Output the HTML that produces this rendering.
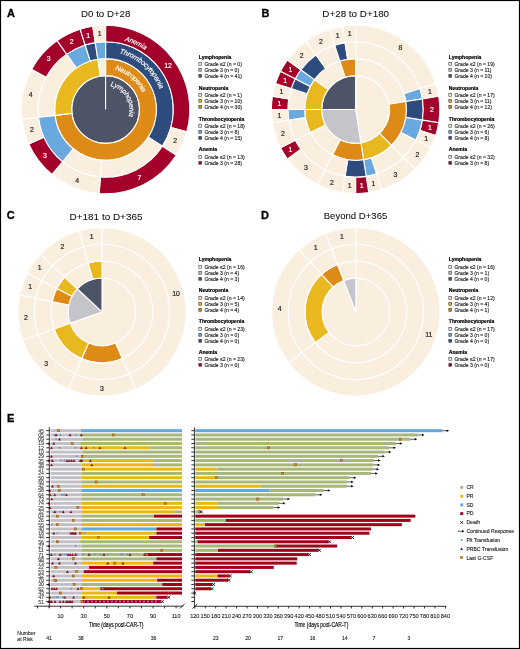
<!DOCTYPE html><html><head><meta charset="utf-8"><style>html,body{margin:0;padding:0;background:#fff}svg{display:block;will-change:transform}text{font-family:"Liberation Sans",sans-serif}</style></head><body>
<svg width="520" height="649" viewBox="0 0 520 649">
<rect x="0" y="0" width="520" height="649" fill="#fff"/>
<text x="7.0" y="16.5" font-size="11" font-weight="bold" fill="#000" stroke="#000" stroke-width="0.3">A</text>
<text x="261.4" y="16.5" font-size="11" font-weight="bold" fill="#000" stroke="#000" stroke-width="0.3">B</text>
<text x="6.7" y="219.3" font-size="11" font-weight="bold" fill="#000" stroke="#000" stroke-width="0.3">C</text>
<text x="261.0" y="219.2" font-size="11" font-weight="bold" fill="#000" stroke="#000" stroke-width="0.3">D</text>
<text x="7.0" y="421.8" font-size="11" font-weight="bold" fill="#000" stroke="#000" stroke-width="0.3">E</text>
<text x="81.1" y="17.2" font-size="9.3" fill="#111" stroke="#111" stroke-width="0.07" textLength="49.2" lengthAdjust="spacingAndGlyphs">D0 to D+28</text>
<text x="322.3" y="17.3" font-size="9.3" fill="#111" stroke="#111" stroke-width="0.07" textLength="66.8" lengthAdjust="spacingAndGlyphs">D+28 to D+180</text>
<text x="69.6" y="219.9" font-size="9.3" fill="#111" stroke="#111" stroke-width="0.07" textLength="72.9" lengthAdjust="spacingAndGlyphs">D+181 to D+365</text>
<text x="323.7" y="219.4" font-size="9.3" fill="#111" stroke="#111" stroke-width="0.07" textLength="63.6" lengthAdjust="spacingAndGlyphs">Beyond D+365</text>
<path d="M105.6,109.5L105.6,75.6A33.9,33.9 0 1 1 105.6,143.4A33.9,33.9 0 1 1 105.6,75.6Z" fill="#4D5466" stroke="#fff" stroke-width="1.1" fill-rule="evenodd"/>
<path d="M105.6,58.6A50.9,50.9 0 1 1 55.04,115.34L71.92,113.39A33.9,33.9 0 1 0 105.6,75.6Z" fill="#DE8A16" stroke="#fff" stroke-width="1.1"/>
<path d="M55.04,115.34A50.9,50.9 0 0 1 97.83,59.2L100.43,76A33.9,33.9 0 0 0 71.92,113.39Z" fill="#E8B81E" stroke="#fff" stroke-width="1.1"/>
<path d="M97.83,59.2A50.9,50.9 0 0 1 105.6,58.6L105.6,75.6A33.9,33.9 0 0 0 100.43,76Z" fill="#FAEEDF" stroke="#fff" stroke-width="1.1"/>
<path d="M105.6,41.8A67.7,67.7 0 0 1 162.43,146.3L148.32,137.17A50.9,50.9 0 0 0 105.6,58.6Z" fill="#2D4B7C" stroke="#fff" stroke-width="1.1"/>
<path d="M162.43,146.3A67.7,67.7 0 0 1 100.42,177L101.7,160.25A50.9,50.9 0 0 0 148.32,137.17Z" fill="#FAEEDF" stroke="#fff" stroke-width="1.1"/>
<path d="M100.42,177A67.7,67.7 0 0 1 62.53,161.73L73.22,148.77A50.9,50.9 0 0 0 101.7,160.25Z" fill="#FAEEDF" stroke="#fff" stroke-width="1.1"/>
<path d="M62.53,161.73A67.7,67.7 0 0 1 38.35,117.26L55.04,115.34A50.9,50.9 0 0 0 73.22,148.77Z" fill="#6AA9DF" stroke="#fff" stroke-width="1.1"/>
<path d="M38.35,117.26A67.7,67.7 0 0 1 66.65,54.13L76.32,67.87A50.9,50.9 0 0 0 55.04,115.34Z" fill="#FAEEDF" stroke="#fff" stroke-width="1.1"/>
<path d="M66.65,54.13A67.7,67.7 0 0 1 85.17,44.96L90.24,60.97A50.9,50.9 0 0 0 76.32,67.87Z" fill="#6AA9DF" stroke="#fff" stroke-width="1.1"/>
<path d="M85.17,44.96A67.7,67.7 0 0 1 95.27,42.59L97.83,59.2A50.9,50.9 0 0 0 90.24,60.97Z" fill="#2D4B7C" stroke="#fff" stroke-width="1.1"/>
<path d="M95.27,42.59A67.7,67.7 0 0 1 105.6,41.8L105.6,58.6A50.9,50.9 0 0 0 97.83,59.2Z" fill="#6AA9DF" stroke="#fff" stroke-width="1.1"/>
<path d="M105.6,25.3A84.2,84.2 0 0 1 186.79,131.81L170.88,127.44A67.7,67.7 0 0 0 105.6,41.8Z" fill="#A3002A" stroke="#fff" stroke-width="1.1"/>
<path d="M186.79,131.81A84.2,84.2 0 0 1 176.27,155.27L162.43,146.3A67.7,67.7 0 0 0 170.88,127.44Z" fill="#FAEEDF" stroke="#fff" stroke-width="1.1"/>
<path d="M176.27,155.27A84.2,84.2 0 0 1 99.15,193.45L100.42,177A67.7,67.7 0 0 0 162.43,146.3Z" fill="#A3002A" stroke="#fff" stroke-width="1.1"/>
<path d="M99.15,193.45A84.2,84.2 0 0 1 52.03,174.46L62.53,161.73A67.7,67.7 0 0 0 100.42,177Z" fill="#FAEEDF" stroke="#fff" stroke-width="1.1"/>
<path d="M52.03,174.46A84.2,84.2 0 0 1 28.77,143.94L43.82,137.19A67.7,67.7 0 0 0 62.53,161.73Z" fill="#A3002A" stroke="#fff" stroke-width="1.1"/>
<path d="M28.77,143.94A84.2,84.2 0 0 1 21.96,119.16L38.35,117.26A67.7,67.7 0 0 0 43.82,137.19Z" fill="#FAEEDF" stroke="#fff" stroke-width="1.1"/>
<path d="M21.96,119.16A84.2,84.2 0 0 1 31.63,69.28L46.12,77.16A67.7,67.7 0 0 0 38.35,117.26Z" fill="#FAEEDF" stroke="#fff" stroke-width="1.1"/>
<path d="M31.63,69.28A84.2,84.2 0 0 1 57.16,40.63L66.65,54.13A67.7,67.7 0 0 0 46.12,77.16Z" fill="#A3002A" stroke="#fff" stroke-width="1.1"/>
<path d="M57.16,40.63A84.2,84.2 0 0 1 80.2,29.22L85.17,44.96A67.7,67.7 0 0 0 66.65,54.13Z" fill="#A3002A" stroke="#fff" stroke-width="1.1"/>
<path d="M80.2,29.22A84.2,84.2 0 0 1 92.75,26.29L95.27,42.59A67.7,67.7 0 0 0 85.17,44.96Z" fill="#A3002A" stroke="#fff" stroke-width="1.1"/>
<path d="M92.75,26.29A84.2,84.2 0 0 1 105.6,25.3L105.6,41.8A67.7,67.7 0 0 0 95.27,42.59Z" fill="#FAEEDF" stroke="#fff" stroke-width="1.1"/>
<text x="167.99" y="67.94" font-size="6.9" fill="#fff" stroke="#fff" stroke-width="0.18" text-anchor="middle">12</text>
<text x="175.27" y="143.18" font-size="6.9" fill="#222" stroke="#222" stroke-width="0.18" text-anchor="middle">2</text>
<text x="139.48" y="180.37" font-size="6.9" fill="#fff" stroke="#fff" stroke-width="0.18" text-anchor="middle">7</text>
<text x="77.06" y="182.76" font-size="6.9" fill="#222" stroke="#222" stroke-width="0.18" text-anchor="middle">4</text>
<text x="44.88" y="158.24" font-size="6.9" fill="#fff" stroke="#fff" stroke-width="0.18" text-anchor="middle">3</text>
<text x="31.98" y="132.18" font-size="6.9" fill="#222" stroke="#222" stroke-width="0.18" text-anchor="middle">2</text>
<text x="30.65" y="97.41" font-size="6.9" fill="#222" stroke="#222" stroke-width="0.18" text-anchor="middle">4</text>
<text x="48.6" y="61.15" font-size="6.9" fill="#fff" stroke="#fff" stroke-width="0.18" text-anchor="middle">3</text>
<text x="71.72" y="43.53" font-size="6.9" fill="#fff" stroke="#fff" stroke-width="0.18" text-anchor="middle">2</text>
<text x="88.2" y="37.61" font-size="6.9" fill="#fff" stroke="#fff" stroke-width="0.18" text-anchor="middle">1</text>
<text x="99.76" y="35.82" font-size="6.9" fill="#222" stroke="#222" stroke-width="0.18" text-anchor="middle">1</text>
<path id="arcA0" d="M105.6,38.1A71.4,71.4 0 1 1 105.6,180.9A71.4,71.4 0 1 1 105.6,38.1" fill="none"/>
<text font-size="6.9" font-style="italic" fill="#fff" stroke="#fff" stroke-width="0.15" letter-spacing="-0.2"><textPath href="#arcA0" startOffset="19.44">Anemia</textPath></text>
<path id="arcA1" d="M105.6,51.7A57.8,57.8 0 1 1 105.6,167.3A57.8,57.8 0 1 1 105.6,51.7" fill="none"/>
<text font-size="7.1" font-style="italic" fill="#fff" stroke="#fff" stroke-width="0.15" letter-spacing="-0.2"><textPath href="#arcA1" startOffset="13.92">Thrombocytopenia</textPath></text>
<path id="arcA2" d="M105.6,69.1A40.4,40.4 0 1 1 105.6,149.9A40.4,40.4 0 1 1 105.6,69.1" fill="none"/>
<text font-size="7.1" font-style="italic" fill="#fff" stroke="#fff" stroke-width="0.15" letter-spacing="-0.22"><textPath href="#arcA2" startOffset="9.38">Neutropenia</textPath></text>
<path id="arcA3" d="M105.6,85.5A24.0,24.0 0 1 1 105.6,133.5A24.0,24.0 0 1 1 105.6,85.5" fill="none"/>
<text font-size="6.9" font-style="italic" fill="#fff" stroke="#fff" stroke-width="0.15" letter-spacing="-0.15"><textPath href="#arcA3" startOffset="4.82">Lymphopenia</textPath></text>
<path d="M355.6,109.5L355.6,75.6A33.9,33.9 0 0 1 360.9,142.98Z" fill="#FAEEDF" stroke="#fff" stroke-width="1.1"/>
<path d="M355.6,109.5L360.9,142.98A33.9,33.9 0 0 1 321.7,109.5Z" fill="#C5C4CA" stroke="#fff" stroke-width="1.1"/>
<path d="M355.6,109.5L321.7,109.5A33.9,33.9 0 0 1 355.6,75.6Z" fill="#4D5466" stroke="#fff" stroke-width="1.1"/>
<path d="M355.6,58.6A50.9,50.9 0 0 1 405.87,101.54L389.08,104.2A33.9,33.9 0 0 0 355.6,75.6Z" fill="#FAEEDF" stroke="#fff" stroke-width="1.1"/>
<path d="M405.87,101.54A50.9,50.9 0 0 1 391.59,145.49L379.57,133.47A33.9,33.9 0 0 0 389.08,104.2Z" fill="#DE8A16" stroke="#fff" stroke-width="1.1"/>
<path d="M391.59,145.49A50.9,50.9 0 0 1 363.56,159.77L360.9,142.98A33.9,33.9 0 0 0 379.57,133.47Z" fill="#E8B81E" stroke="#fff" stroke-width="1.1"/>
<path d="M363.56,159.77A50.9,50.9 0 0 1 332.49,154.85L340.21,139.71A33.9,33.9 0 0 0 360.9,142.98Z" fill="#DE8A16" stroke="#fff" stroke-width="1.1"/>
<path d="M332.49,154.85A50.9,50.9 0 0 1 310.25,132.61L325.39,124.89A33.9,33.9 0 0 0 340.21,139.71Z" fill="#FAEEDF" stroke="#fff" stroke-width="1.1"/>
<path d="M310.25,132.61A50.9,50.9 0 0 1 304.7,109.5L321.7,109.5A33.9,33.9 0 0 0 325.39,124.89Z" fill="#E8B81E" stroke="#fff" stroke-width="1.1"/>
<path d="M304.7,109.5A50.9,50.9 0 0 1 314.42,79.58L328.17,89.57A33.9,33.9 0 0 0 321.7,109.5Z" fill="#E8B81E" stroke="#fff" stroke-width="1.1"/>
<path d="M314.42,79.58A50.9,50.9 0 0 1 339.87,61.09L345.12,77.26A33.9,33.9 0 0 0 328.17,89.57Z" fill="#FAEEDF" stroke="#fff" stroke-width="1.1"/>
<path d="M339.87,61.09A50.9,50.9 0 0 1 355.6,58.6L355.6,75.6A33.9,33.9 0 0 0 345.12,77.26Z" fill="#DE8A16" stroke="#fff" stroke-width="1.1"/>
<path d="M355.6,41.8A67.7,67.7 0 0 1 419.99,88.58L404.01,93.77A50.9,50.9 0 0 0 355.6,58.6Z" fill="#FAEEDF" stroke="#fff" stroke-width="1.1"/>
<path d="M419.99,88.58A67.7,67.7 0 0 1 422.47,98.91L405.87,101.54A50.9,50.9 0 0 0 404.01,93.77Z" fill="#6AA9DF" stroke="#fff" stroke-width="1.1"/>
<path d="M422.47,98.91A67.7,67.7 0 0 1 422.47,120.09L405.87,117.46A50.9,50.9 0 0 0 405.87,101.54Z" fill="#2D4B7C" stroke="#fff" stroke-width="1.1"/>
<path d="M422.47,120.09A67.7,67.7 0 0 1 415.92,140.24L400.95,132.61A50.9,50.9 0 0 0 405.87,117.46Z" fill="#6AA9DF" stroke="#fff" stroke-width="1.1"/>
<path d="M415.92,140.24A67.7,67.7 0 0 1 403.47,157.37L391.59,145.49A50.9,50.9 0 0 0 400.95,132.61Z" fill="#FAEEDF" stroke="#fff" stroke-width="1.1"/>
<path d="M403.47,157.37A67.7,67.7 0 0 1 376.52,173.89L371.33,157.91A50.9,50.9 0 0 0 391.59,145.49Z" fill="#FAEEDF" stroke="#fff" stroke-width="1.1"/>
<path d="M376.52,173.89A67.7,67.7 0 0 1 366.19,176.37L363.56,159.77A50.9,50.9 0 0 0 371.33,157.91Z" fill="#6AA9DF" stroke="#fff" stroke-width="1.1"/>
<path d="M366.19,176.37A67.7,67.7 0 0 1 345.01,176.37L347.64,159.77A50.9,50.9 0 0 0 363.56,159.77Z" fill="#2D4B7C" stroke="#fff" stroke-width="1.1"/>
<path d="M345.01,176.37A67.7,67.7 0 0 1 324.86,169.82L332.49,154.85A50.9,50.9 0 0 0 347.64,159.77Z" fill="#FAEEDF" stroke="#fff" stroke-width="1.1"/>
<path d="M324.86,169.82A67.7,67.7 0 0 1 295.28,140.24L310.25,132.61A50.9,50.9 0 0 0 332.49,154.85Z" fill="#FAEEDF" stroke="#fff" stroke-width="1.1"/>
<path d="M295.28,140.24A67.7,67.7 0 0 1 288.73,120.09L305.33,117.46A50.9,50.9 0 0 0 310.25,132.61Z" fill="#FAEEDF" stroke="#fff" stroke-width="1.1"/>
<path d="M288.73,120.09A67.7,67.7 0 0 1 287.9,109.5L304.7,109.5A50.9,50.9 0 0 0 305.33,117.46Z" fill="#6AA9DF" stroke="#fff" stroke-width="1.1"/>
<path d="M287.9,109.5A67.7,67.7 0 0 1 291.21,88.58L307.19,93.77A50.9,50.9 0 0 0 304.7,109.5Z" fill="#FAEEDF" stroke="#fff" stroke-width="1.1"/>
<path d="M291.21,88.58A67.7,67.7 0 0 1 295.28,78.76L310.25,86.39A50.9,50.9 0 0 0 307.19,93.77Z" fill="#2D4B7C" stroke="#fff" stroke-width="1.1"/>
<path d="M295.28,78.76A67.7,67.7 0 0 1 300.83,69.71L314.42,79.58A50.9,50.9 0 0 0 310.25,86.39Z" fill="#6AA9DF" stroke="#fff" stroke-width="1.1"/>
<path d="M300.83,69.71A67.7,67.7 0 0 1 315.81,54.73L325.68,68.32A50.9,50.9 0 0 0 314.42,79.58Z" fill="#2D4B7C" stroke="#fff" stroke-width="1.1"/>
<path d="M315.81,54.73A67.7,67.7 0 0 1 334.68,45.11L339.87,61.09A50.9,50.9 0 0 0 325.68,68.32Z" fill="#FAEEDF" stroke="#fff" stroke-width="1.1"/>
<path d="M334.68,45.11A67.7,67.7 0 0 1 345.01,42.63L347.64,59.23A50.9,50.9 0 0 0 339.87,61.09Z" fill="#2D4B7C" stroke="#fff" stroke-width="1.1"/>
<path d="M345.01,42.63A67.7,67.7 0 0 1 355.6,41.8L355.6,58.6A50.9,50.9 0 0 0 347.64,59.23Z" fill="#FAEEDF" stroke="#fff" stroke-width="1.1"/>
<path d="M355.6,25.3A84.2,84.2 0 0 1 435.68,83.48L419.99,88.58A67.7,67.7 0 0 0 355.6,41.8Z" fill="#FAEEDF" stroke="#fff" stroke-width="1.1"/>
<path d="M435.68,83.48A84.2,84.2 0 0 1 438.76,96.33L422.47,98.91A67.7,67.7 0 0 0 419.99,88.58Z" fill="#FAEEDF" stroke="#fff" stroke-width="1.1"/>
<path d="M438.76,96.33A84.2,84.2 0 0 1 438.76,122.67L422.47,120.09A67.7,67.7 0 0 0 422.47,98.91Z" fill="#A3002A" stroke="#fff" stroke-width="1.1"/>
<path d="M438.76,122.67A84.2,84.2 0 0 1 435.68,135.52L419.99,130.42A67.7,67.7 0 0 0 422.47,120.09Z" fill="#A3002A" stroke="#fff" stroke-width="1.1"/>
<path d="M435.68,135.52A84.2,84.2 0 0 1 430.62,147.73L415.92,140.24A67.7,67.7 0 0 0 419.99,130.42Z" fill="#FAEEDF" stroke="#fff" stroke-width="1.1"/>
<path d="M430.62,147.73A84.2,84.2 0 0 1 415.14,169.04L403.47,157.37A67.7,67.7 0 0 0 415.92,140.24Z" fill="#FAEEDF" stroke="#fff" stroke-width="1.1"/>
<path d="M415.14,169.04A84.2,84.2 0 0 1 381.62,189.58L376.52,173.89A67.7,67.7 0 0 0 403.47,157.37Z" fill="#FAEEDF" stroke="#fff" stroke-width="1.1"/>
<path d="M381.62,189.58A84.2,84.2 0 0 1 368.77,192.66L366.19,176.37A67.7,67.7 0 0 0 376.52,173.89Z" fill="#FAEEDF" stroke="#fff" stroke-width="1.1"/>
<path d="M368.77,192.66A84.2,84.2 0 0 1 355.6,193.7L355.6,177.2A67.7,67.7 0 0 0 366.19,176.37Z" fill="#A3002A" stroke="#fff" stroke-width="1.1"/>
<path d="M355.6,193.7A84.2,84.2 0 0 1 342.43,192.66L345.01,176.37A67.7,67.7 0 0 0 355.6,177.2Z" fill="#FAEEDF" stroke="#fff" stroke-width="1.1"/>
<path d="M342.43,192.66A84.2,84.2 0 0 1 317.37,184.52L324.86,169.82A67.7,67.7 0 0 0 345.01,176.37Z" fill="#FAEEDF" stroke="#fff" stroke-width="1.1"/>
<path d="M317.37,184.52A84.2,84.2 0 0 1 287.48,158.99L300.83,149.29A67.7,67.7 0 0 0 324.86,169.82Z" fill="#FAEEDF" stroke="#fff" stroke-width="1.1"/>
<path d="M287.48,158.99A84.2,84.2 0 0 1 280.58,147.73L295.28,140.24A67.7,67.7 0 0 0 300.83,149.29Z" fill="#A3002A" stroke="#fff" stroke-width="1.1"/>
<path d="M280.58,147.73A84.2,84.2 0 0 1 272.44,122.67L288.73,120.09A67.7,67.7 0 0 0 295.28,140.24Z" fill="#FAEEDF" stroke="#fff" stroke-width="1.1"/>
<path d="M272.44,122.67A84.2,84.2 0 0 1 271.4,109.5L287.9,109.5A67.7,67.7 0 0 0 288.73,120.09Z" fill="#FAEEDF" stroke="#fff" stroke-width="1.1"/>
<path d="M271.4,109.5A84.2,84.2 0 0 1 272.44,96.33L288.73,98.91A67.7,67.7 0 0 0 287.9,109.5Z" fill="#A3002A" stroke="#fff" stroke-width="1.1"/>
<path d="M272.44,96.33A84.2,84.2 0 0 1 275.52,83.48L291.21,88.58A67.7,67.7 0 0 0 288.73,98.91Z" fill="#FAEEDF" stroke="#fff" stroke-width="1.1"/>
<path d="M275.52,83.48A84.2,84.2 0 0 1 280.58,71.27L295.28,78.76A67.7,67.7 0 0 0 291.21,88.58Z" fill="#A3002A" stroke="#fff" stroke-width="1.1"/>
<path d="M280.58,71.27A84.2,84.2 0 0 1 287.48,60.01L300.83,69.71A67.7,67.7 0 0 0 295.28,78.76Z" fill="#A3002A" stroke="#fff" stroke-width="1.1"/>
<path d="M287.48,60.01A84.2,84.2 0 0 1 306.11,41.38L315.81,54.73A67.7,67.7 0 0 0 300.83,69.71Z" fill="#FAEEDF" stroke="#fff" stroke-width="1.1"/>
<path d="M306.11,41.38A84.2,84.2 0 0 1 329.58,29.42L334.68,45.11A67.7,67.7 0 0 0 315.81,54.73Z" fill="#FAEEDF" stroke="#fff" stroke-width="1.1"/>
<path d="M329.58,29.42A84.2,84.2 0 0 1 342.43,26.34L345.01,42.63A67.7,67.7 0 0 0 334.68,45.11Z" fill="#FAEEDF" stroke="#fff" stroke-width="1.1"/>
<path d="M342.43,26.34A84.2,84.2 0 0 1 355.6,25.3L355.6,41.8A67.7,67.7 0 0 0 345.01,42.63Z" fill="#FAEEDF" stroke="#fff" stroke-width="1.1"/>
<text x="400.48" y="50.18" font-size="6.9" fill="#222" stroke="#222" stroke-width="0.18" text-anchor="middle">8</text>
<text x="429.84" y="94.13" font-size="6.9" fill="#222" stroke="#222" stroke-width="0.18" text-anchor="middle">1</text>
<text x="431.95" y="111.95" font-size="6.9" fill="#fff" stroke="#fff" stroke-width="0.18" text-anchor="middle">2</text>
<text x="429.84" y="129.77" font-size="6.9" fill="#fff" stroke="#fff" stroke-width="0.18" text-anchor="middle">1</text>
<text x="426.14" y="141.17" font-size="6.9" fill="#222" stroke="#222" stroke-width="0.18" text-anchor="middle">1</text>
<text x="417.37" y="156.83" font-size="6.9" fill="#222" stroke="#222" stroke-width="0.18" text-anchor="middle">2</text>
<text x="395.49" y="177.05" font-size="6.9" fill="#222" stroke="#222" stroke-width="0.18" text-anchor="middle">3</text>
<text x="373.42" y="186.19" font-size="6.9" fill="#222" stroke="#222" stroke-width="0.18" text-anchor="middle">1</text>
<text x="361.59" y="188.06" font-size="6.9" fill="#fff" stroke="#fff" stroke-width="0.18" text-anchor="middle">1</text>
<text x="349.61" y="188.06" font-size="6.9" fill="#222" stroke="#222" stroke-width="0.18" text-anchor="middle">1</text>
<text x="332.01" y="184.56" font-size="6.9" fill="#222" stroke="#222" stroke-width="0.18" text-anchor="middle">2</text>
<text x="306.01" y="170.01" font-size="6.9" fill="#222" stroke="#222" stroke-width="0.18" text-anchor="middle">3</text>
<text x="290.5" y="151.84" font-size="6.9" fill="#fff" stroke="#fff" stroke-width="0.18" text-anchor="middle">1</text>
<text x="282.99" y="135.54" font-size="6.9" fill="#222" stroke="#222" stroke-width="0.18" text-anchor="middle">2</text>
<text x="279.49" y="117.94" font-size="6.9" fill="#222" stroke="#222" stroke-width="0.18" text-anchor="middle">1</text>
<text x="279.49" y="105.96" font-size="6.9" fill="#fff" stroke="#fff" stroke-width="0.18" text-anchor="middle">1</text>
<text x="281.36" y="94.13" font-size="6.9" fill="#222" stroke="#222" stroke-width="0.18" text-anchor="middle">1</text>
<text x="285.06" y="82.73" font-size="6.9" fill="#fff" stroke="#fff" stroke-width="0.18" text-anchor="middle">1</text>
<text x="290.5" y="72.06" font-size="6.9" fill="#fff" stroke="#fff" stroke-width="0.18" text-anchor="middle">1</text>
<text x="301.61" y="57.96" font-size="6.9" fill="#222" stroke="#222" stroke-width="0.18" text-anchor="middle">2</text>
<text x="320.94" y="43.92" font-size="6.9" fill="#222" stroke="#222" stroke-width="0.18" text-anchor="middle">2</text>
<text x="337.78" y="37.71" font-size="6.9" fill="#222" stroke="#222" stroke-width="0.18" text-anchor="middle">1</text>
<text x="349.61" y="35.84" font-size="6.9" fill="#222" stroke="#222" stroke-width="0.18" text-anchor="middle">1</text>
<path d="M102,311.9L102,278A33.9,33.9 0 1 1 70.06,323.25Z" fill="#FAEEDF" stroke="#fff" stroke-width="1.1"/>
<path d="M102,311.9L70.06,323.25A33.9,33.9 0 0 1 77.22,288.76Z" fill="#C5C4CA" stroke="#fff" stroke-width="1.1"/>
<path d="M102,311.9L77.22,288.76A33.9,33.9 0 0 1 102,278Z" fill="#4D5466" stroke="#fff" stroke-width="1.1"/>
<path d="M102,261A50.9,50.9 0 0 1 122.28,358.59L115.51,342.99A33.9,33.9 0 0 0 102,278Z" fill="#FAEEDF" stroke="#fff" stroke-width="1.1"/>
<path d="M122.28,358.59A50.9,50.9 0 0 1 81.72,358.59L88.49,342.99A33.9,33.9 0 0 0 115.51,342.99Z" fill="#DE8A16" stroke="#fff" stroke-width="1.1"/>
<path d="M81.72,358.59A50.9,50.9 0 0 1 54.04,328.95L70.06,323.25A33.9,33.9 0 0 0 88.49,342.99Z" fill="#E8B81E" stroke="#fff" stroke-width="1.1"/>
<path d="M54.04,328.95A50.9,50.9 0 0 1 52.16,301.54L68.81,305A33.9,33.9 0 0 0 70.06,323.25Z" fill="#FAEEDF" stroke="#fff" stroke-width="1.1"/>
<path d="M52.16,301.54A50.9,50.9 0 0 1 56.81,288.48L71.9,296.3A33.9,33.9 0 0 0 68.81,305Z" fill="#DE8A16" stroke="#fff" stroke-width="1.1"/>
<path d="M56.81,288.48A50.9,50.9 0 0 1 64.8,277.16L77.22,288.76A33.9,33.9 0 0 0 71.9,296.3Z" fill="#E8B81E" stroke="#fff" stroke-width="1.1"/>
<path d="M64.8,277.16A50.9,50.9 0 0 1 88.27,262.89L92.85,279.26A33.9,33.9 0 0 0 77.22,288.76Z" fill="#FAEEDF" stroke="#fff" stroke-width="1.1"/>
<path d="M88.27,262.89A50.9,50.9 0 0 1 102,261L102,278A33.9,33.9 0 0 0 92.85,279.26Z" fill="#E8B81E" stroke="#fff" stroke-width="1.1"/>
<path d="M102,244.2A67.7,67.7 0 0 1 128.97,374L122.28,358.59A50.9,50.9 0 0 0 102,261Z" fill="#FAEEDF" stroke="#fff" stroke-width="1.1"/>
<path d="M128.97,374A67.7,67.7 0 0 1 75.03,374L81.72,358.59A50.9,50.9 0 0 0 122.28,358.59Z" fill="#FAEEDF" stroke="#fff" stroke-width="1.1"/>
<path d="M75.03,374A67.7,67.7 0 0 1 38.21,334.57L54.04,328.95A50.9,50.9 0 0 0 81.72,358.59Z" fill="#FAEEDF" stroke="#fff" stroke-width="1.1"/>
<path d="M38.21,334.57A67.7,67.7 0 0 1 35.72,298.13L52.16,301.54A50.9,50.9 0 0 0 54.04,328.95Z" fill="#FAEEDF" stroke="#fff" stroke-width="1.1"/>
<path d="M35.72,298.13A67.7,67.7 0 0 1 41.89,280.75L56.81,288.48A50.9,50.9 0 0 0 52.16,301.54Z" fill="#FAEEDF" stroke="#fff" stroke-width="1.1"/>
<path d="M41.89,280.75A67.7,67.7 0 0 1 52.52,265.69L64.8,277.16A50.9,50.9 0 0 0 56.81,288.48Z" fill="#FAEEDF" stroke="#fff" stroke-width="1.1"/>
<path d="M52.52,265.69A67.7,67.7 0 0 1 83.73,246.71L88.27,262.89A50.9,50.9 0 0 0 64.8,277.16Z" fill="#FAEEDF" stroke="#fff" stroke-width="1.1"/>
<path d="M83.73,246.71A67.7,67.7 0 0 1 102,244.2L102,261A50.9,50.9 0 0 0 88.27,262.89Z" fill="#FAEEDF" stroke="#fff" stroke-width="1.1"/>
<path d="M102,227.7A84.2,84.2 0 0 1 135.55,389.13L128.97,374A67.7,67.7 0 0 0 102,244.2Z" fill="#FAEEDF" stroke="#fff" stroke-width="1.1"/>
<path d="M135.55,389.13A84.2,84.2 0 0 1 68.45,389.13L75.03,374A67.7,67.7 0 0 0 128.97,374Z" fill="#FAEEDF" stroke="#fff" stroke-width="1.1"/>
<path d="M68.45,389.13A84.2,84.2 0 0 1 22.66,340.1L38.21,334.57A67.7,67.7 0 0 0 75.03,374Z" fill="#FAEEDF" stroke="#fff" stroke-width="1.1"/>
<path d="M22.66,340.1A84.2,84.2 0 0 1 19.56,294.77L35.72,298.13A67.7,67.7 0 0 0 38.21,334.57Z" fill="#FAEEDF" stroke="#fff" stroke-width="1.1"/>
<path d="M19.56,294.77A84.2,84.2 0 0 1 27.24,273.16L41.89,280.75A67.7,67.7 0 0 0 35.72,298.13Z" fill="#FAEEDF" stroke="#fff" stroke-width="1.1"/>
<path d="M27.24,273.16A84.2,84.2 0 0 1 40.46,254.43L52.52,265.69A67.7,67.7 0 0 0 41.89,280.75Z" fill="#FAEEDF" stroke="#fff" stroke-width="1.1"/>
<path d="M40.46,254.43A84.2,84.2 0 0 1 79.28,230.82L83.73,246.71A67.7,67.7 0 0 0 52.52,265.69Z" fill="#FAEEDF" stroke="#fff" stroke-width="1.1"/>
<path d="M79.28,230.82A84.2,84.2 0 0 1 102,227.7L102,244.2A67.7,67.7 0 0 0 83.73,246.71Z" fill="#FAEEDF" stroke="#fff" stroke-width="1.1"/>
<text x="176.05" y="295.75" font-size="6.9" fill="#222" stroke="#222" stroke-width="0.18" text-anchor="middle">10</text>
<text x="102" y="390.7" font-size="6.9" fill="#222" stroke="#222" stroke-width="0.18" text-anchor="middle">3</text>
<text x="46.2" y="366.46" font-size="6.9" fill="#222" stroke="#222" stroke-width="0.18" text-anchor="middle">3</text>
<text x="25.83" y="319.56" font-size="6.9" fill="#222" stroke="#222" stroke-width="0.18" text-anchor="middle">2</text>
<text x="30.06" y="288.78" font-size="6.9" fill="#222" stroke="#222" stroke-width="0.18" text-anchor="middle">1</text>
<text x="39.62" y="270.32" font-size="6.9" fill="#222" stroke="#222" stroke-width="0.18" text-anchor="middle">1</text>
<text x="62.33" y="249.12" font-size="6.9" fill="#222" stroke="#222" stroke-width="0.18" text-anchor="middle">2</text>
<text x="91.6" y="238.71" font-size="6.9" fill="#222" stroke="#222" stroke-width="0.18" text-anchor="middle">1</text>
<path d="M355.9,312L355.9,278.1A33.9,33.9 0 1 1 343.65,280.39Z" fill="#FAEEDF" stroke="#fff" stroke-width="1.1"/>
<path d="M355.9,312L343.65,280.39A33.9,33.9 0 0 1 355.9,278.1Z" fill="#C5C4CA" stroke="#fff" stroke-width="1.1"/>
<path d="M355.9,261.1A50.9,50.9 0 1 1 315.28,342.67L328.85,332.43A33.9,33.9 0 1 0 355.9,278.1Z" fill="#FAEEDF" stroke="#fff" stroke-width="1.1"/>
<path d="M315.28,342.67A50.9,50.9 0 0 1 321.61,274.38L333.06,286.95A33.9,33.9 0 0 0 328.85,332.43Z" fill="#E8B81E" stroke="#fff" stroke-width="1.1"/>
<path d="M321.61,274.38A50.9,50.9 0 0 1 337.51,264.54L343.65,280.39A33.9,33.9 0 0 0 333.06,286.95Z" fill="#DE8A16" stroke="#fff" stroke-width="1.1"/>
<path d="M337.51,264.54A50.9,50.9 0 0 1 355.9,261.1L355.9,278.1A33.9,33.9 0 0 0 343.65,280.39Z" fill="#FAEEDF" stroke="#fff" stroke-width="1.1"/>
<path d="M355.9,244.3A67.7,67.7 0 1 1 301.87,352.8L315.28,342.67A50.9,50.9 0 1 0 355.9,261.1Z" fill="#FAEEDF" stroke="#fff" stroke-width="1.1"/>
<path d="M301.87,352.8A67.7,67.7 0 0 1 310.29,261.97L321.61,274.38A50.9,50.9 0 0 0 315.28,342.67Z" fill="#FAEEDF" stroke="#fff" stroke-width="1.1"/>
<path d="M310.29,261.97A67.7,67.7 0 0 1 331.44,248.87L337.51,264.54A50.9,50.9 0 0 0 321.61,274.38Z" fill="#FAEEDF" stroke="#fff" stroke-width="1.1"/>
<path d="M331.44,248.87A67.7,67.7 0 0 1 355.9,244.3L355.9,261.1A50.9,50.9 0 0 0 337.51,264.54Z" fill="#FAEEDF" stroke="#fff" stroke-width="1.1"/>
<path d="M355.9,227.8A84.2,84.2 0 1 1 288.71,362.74L301.87,352.8A67.7,67.7 0 1 0 355.9,244.3Z" fill="#FAEEDF" stroke="#fff" stroke-width="1.1"/>
<path d="M288.71,362.74A84.2,84.2 0 0 1 299.17,249.78L310.29,261.97A67.7,67.7 0 0 0 301.87,352.8Z" fill="#FAEEDF" stroke="#fff" stroke-width="1.1"/>
<path d="M299.17,249.78A84.2,84.2 0 0 1 325.48,233.49L331.44,248.87A67.7,67.7 0 0 0 310.29,261.97Z" fill="#FAEEDF" stroke="#fff" stroke-width="1.1"/>
<path d="M325.48,233.49A84.2,84.2 0 0 1 355.9,227.8L355.9,244.3A67.7,67.7 0 0 0 331.44,248.87Z" fill="#FAEEDF" stroke="#fff" stroke-width="1.1"/>
<text x="428.84" y="337.03" font-size="6.9" fill="#222" stroke="#222" stroke-width="0.18" text-anchor="middle">11</text>
<text x="279.63" y="310.99" font-size="6.9" fill="#222" stroke="#222" stroke-width="0.18" text-anchor="middle">4</text>
<text x="315.71" y="249.54" font-size="6.9" fill="#222" stroke="#222" stroke-width="0.18" text-anchor="middle">1</text>
<text x="341.87" y="239.4" font-size="6.9" fill="#222" stroke="#222" stroke-width="0.18" text-anchor="middle">1</text>
<text x="198.8" y="59" font-size="5.05" font-weight="bold" fill="#000" stroke="#000" stroke-width="0.2">Lymphopenia</text>
<rect x="198.85" y="62.45" width="2.8" height="2.8" fill="#FAEEDF" stroke="#3a3a3a" stroke-width="0.6"/>
<text x="204.4" y="66" font-size="5.1" fill="#222" stroke="#222" stroke-width="0.14">Grade ≤2 (n = 0)</text>
<rect x="198.85" y="68.45" width="2.8" height="2.8" fill="#C5C4CA" stroke="#3a3a3a" stroke-width="0.6"/>
<text x="204.4" y="72" font-size="5.1" fill="#222" stroke="#222" stroke-width="0.14">Grade 3 (n = 0)</text>
<rect x="198.85" y="74.45" width="2.8" height="2.8" fill="#4D5466" stroke="#3a3a3a" stroke-width="0.6"/>
<text x="204.4" y="78" font-size="5.1" fill="#222" stroke="#222" stroke-width="0.14">Grade 4 (n = 41)</text>
<text x="198.8" y="90" font-size="5.05" font-weight="bold" fill="#000" stroke="#000" stroke-width="0.2">Neutropenia</text>
<rect x="198.85" y="93.45" width="2.8" height="2.8" fill="#FAEEDF" stroke="#3a3a3a" stroke-width="0.6"/>
<text x="204.4" y="97" font-size="5.1" fill="#222" stroke="#222" stroke-width="0.14">Grade ≤2 (n = 1)</text>
<rect x="198.85" y="99.45" width="2.8" height="2.8" fill="#E8B81E" stroke="#3a3a3a" stroke-width="0.6"/>
<text x="204.4" y="103" font-size="5.1" fill="#222" stroke="#222" stroke-width="0.14">Grade 3 (n = 10)</text>
<rect x="198.85" y="105.45" width="2.8" height="2.8" fill="#DE8A16" stroke="#3a3a3a" stroke-width="0.6"/>
<text x="204.4" y="109" font-size="5.1" fill="#222" stroke="#222" stroke-width="0.14">Grade 4 (n = 30)</text>
<text x="198.8" y="121" font-size="5.05" font-weight="bold" fill="#000" stroke="#000" stroke-width="0.2">Thrombocytopenia</text>
<rect x="198.85" y="124.45" width="2.8" height="2.8" fill="#FAEEDF" stroke="#3a3a3a" stroke-width="0.6"/>
<text x="204.4" y="128" font-size="5.1" fill="#222" stroke="#222" stroke-width="0.14">Grade ≤2 (n = 18)</text>
<rect x="198.85" y="130.45" width="2.8" height="2.8" fill="#6AA9DF" stroke="#3a3a3a" stroke-width="0.6"/>
<text x="204.4" y="134" font-size="5.1" fill="#222" stroke="#222" stroke-width="0.14">Grade 3 (n = 8)</text>
<rect x="198.85" y="136.45" width="2.8" height="2.8" fill="#2D4B7C" stroke="#3a3a3a" stroke-width="0.6"/>
<text x="204.4" y="140" font-size="5.1" fill="#222" stroke="#222" stroke-width="0.14">Grade 4 (n = 15)</text>
<text x="198.8" y="151" font-size="5.05" font-weight="bold" fill="#000" stroke="#000" stroke-width="0.2">Anemia</text>
<rect x="198.85" y="155.45" width="2.8" height="2.8" fill="#FAEEDF" stroke="#3a3a3a" stroke-width="0.6"/>
<text x="204.4" y="159" font-size="5.1" fill="#222" stroke="#222" stroke-width="0.14">Grade ≤2 (n = 13)</text>
<rect x="198.85" y="161.45" width="2.8" height="2.8" fill="#A3002A" stroke="#3a3a3a" stroke-width="0.6"/>
<text x="204.4" y="165" font-size="5.1" fill="#222" stroke="#222" stroke-width="0.14">Grade 3 (n = 28)</text>
<text x="448.8" y="59" font-size="5.05" font-weight="bold" fill="#000" stroke="#000" stroke-width="0.2">Lymphopenia</text>
<rect x="448.85" y="62.45" width="2.8" height="2.8" fill="#FAEEDF" stroke="#3a3a3a" stroke-width="0.6"/>
<text x="454.4" y="66" font-size="5.1" fill="#222" stroke="#222" stroke-width="0.14">Grade ≤2 (n = 19)</text>
<rect x="448.85" y="68.45" width="2.8" height="2.8" fill="#C5C4CA" stroke="#3a3a3a" stroke-width="0.6"/>
<text x="454.4" y="72" font-size="5.1" fill="#222" stroke="#222" stroke-width="0.14">Grade 3 (n = 11)</text>
<rect x="448.85" y="74.45" width="2.8" height="2.8" fill="#4D5466" stroke="#3a3a3a" stroke-width="0.6"/>
<text x="454.4" y="78" font-size="5.1" fill="#222" stroke="#222" stroke-width="0.14">Grade 4 (n = 10)</text>
<text x="448.8" y="90" font-size="5.05" font-weight="bold" fill="#000" stroke="#000" stroke-width="0.2">Neutropenia</text>
<rect x="448.85" y="93.45" width="2.8" height="2.8" fill="#FAEEDF" stroke="#3a3a3a" stroke-width="0.6"/>
<text x="454.4" y="97" font-size="5.1" fill="#222" stroke="#222" stroke-width="0.14">Grade ≤2 (n = 17)</text>
<rect x="448.85" y="99.45" width="2.8" height="2.8" fill="#E8B81E" stroke="#3a3a3a" stroke-width="0.6"/>
<text x="454.4" y="103" font-size="5.1" fill="#222" stroke="#222" stroke-width="0.14">Grade 3 (n = 11)</text>
<rect x="448.85" y="105.45" width="2.8" height="2.8" fill="#DE8A16" stroke="#3a3a3a" stroke-width="0.6"/>
<text x="454.4" y="109" font-size="5.1" fill="#222" stroke="#222" stroke-width="0.14">Grade 4 (n = 12)</text>
<text x="448.8" y="121" font-size="5.05" font-weight="bold" fill="#000" stroke="#000" stroke-width="0.2">Thrombocytopenia</text>
<rect x="448.85" y="124.45" width="2.8" height="2.8" fill="#FAEEDF" stroke="#3a3a3a" stroke-width="0.6"/>
<text x="454.4" y="128" font-size="5.1" fill="#222" stroke="#222" stroke-width="0.14">Grade ≤2 (n = 26)</text>
<rect x="448.85" y="130.45" width="2.8" height="2.8" fill="#6AA9DF" stroke="#3a3a3a" stroke-width="0.6"/>
<text x="454.4" y="134" font-size="5.1" fill="#222" stroke="#222" stroke-width="0.14">Grade 3 (n = 6)</text>
<rect x="448.85" y="136.45" width="2.8" height="2.8" fill="#2D4B7C" stroke="#3a3a3a" stroke-width="0.6"/>
<text x="454.4" y="140" font-size="5.1" fill="#222" stroke="#222" stroke-width="0.14">Grade 4 (n = 8)</text>
<text x="448.8" y="151" font-size="5.05" font-weight="bold" fill="#000" stroke="#000" stroke-width="0.2">Anemia</text>
<rect x="448.85" y="155.45" width="2.8" height="2.8" fill="#FAEEDF" stroke="#3a3a3a" stroke-width="0.6"/>
<text x="454.4" y="159" font-size="5.1" fill="#222" stroke="#222" stroke-width="0.14">Grade ≤2 (n = 32)</text>
<rect x="448.85" y="161.45" width="2.8" height="2.8" fill="#A3002A" stroke="#3a3a3a" stroke-width="0.6"/>
<text x="454.4" y="165" font-size="5.1" fill="#222" stroke="#222" stroke-width="0.14">Grade 3 (n = 8)</text>
<text x="198.8" y="261" font-size="5.05" font-weight="bold" fill="#000" stroke="#000" stroke-width="0.2">Lymphopenia</text>
<rect x="198.85" y="265.45" width="2.8" height="2.8" fill="#FAEEDF" stroke="#3a3a3a" stroke-width="0.6"/>
<text x="204.4" y="269" font-size="5.1" fill="#222" stroke="#222" stroke-width="0.14">Grade ≤2 (n = 16)</text>
<rect x="198.85" y="271.45" width="2.8" height="2.8" fill="#C5C4CA" stroke="#3a3a3a" stroke-width="0.6"/>
<text x="204.4" y="275" font-size="5.1" fill="#222" stroke="#222" stroke-width="0.14">Grade 3 (n = 4)</text>
<rect x="198.85" y="277.45" width="2.8" height="2.8" fill="#4D5466" stroke="#3a3a3a" stroke-width="0.6"/>
<text x="204.4" y="281" font-size="5.1" fill="#222" stroke="#222" stroke-width="0.14">Grade 4 (n = 3)</text>
<text x="198.8" y="292" font-size="5.05" font-weight="bold" fill="#000" stroke="#000" stroke-width="0.2">Neutropenia</text>
<rect x="198.85" y="296.45" width="2.8" height="2.8" fill="#FAEEDF" stroke="#3a3a3a" stroke-width="0.6"/>
<text x="204.4" y="300" font-size="5.1" fill="#222" stroke="#222" stroke-width="0.14">Grade ≤2 (n = 14)</text>
<rect x="198.85" y="302.45" width="2.8" height="2.8" fill="#E8B81E" stroke="#3a3a3a" stroke-width="0.6"/>
<text x="204.4" y="306" font-size="5.1" fill="#222" stroke="#222" stroke-width="0.14">Grade 3 (n = 5)</text>
<rect x="198.85" y="308.45" width="2.8" height="2.8" fill="#DE8A16" stroke="#3a3a3a" stroke-width="0.6"/>
<text x="204.4" y="312" font-size="5.1" fill="#222" stroke="#222" stroke-width="0.14">Grade 4 (n = 4)</text>
<text x="198.8" y="323" font-size="5.05" font-weight="bold" fill="#000" stroke="#000" stroke-width="0.2">Thrombocytopenia</text>
<rect x="198.85" y="327.45" width="2.8" height="2.8" fill="#FAEEDF" stroke="#3a3a3a" stroke-width="0.6"/>
<text x="204.4" y="331" font-size="5.1" fill="#222" stroke="#222" stroke-width="0.14">Grade ≤2 (n = 23)</text>
<rect x="198.85" y="333.45" width="2.8" height="2.8" fill="#6AA9DF" stroke="#3a3a3a" stroke-width="0.6"/>
<text x="204.4" y="337" font-size="5.1" fill="#222" stroke="#222" stroke-width="0.14">Grade 3 (n = 0)</text>
<rect x="198.85" y="339.45" width="2.8" height="2.8" fill="#2D4B7C" stroke="#3a3a3a" stroke-width="0.6"/>
<text x="204.4" y="343" font-size="5.1" fill="#222" stroke="#222" stroke-width="0.14">Grade 4 (n = 0)</text>
<text x="198.8" y="354" font-size="5.05" font-weight="bold" fill="#000" stroke="#000" stroke-width="0.2">Anemia</text>
<rect x="198.85" y="357.45" width="2.8" height="2.8" fill="#FAEEDF" stroke="#3a3a3a" stroke-width="0.6"/>
<text x="204.4" y="361" font-size="5.1" fill="#222" stroke="#222" stroke-width="0.14">Grade ≤2 (n = 23)</text>
<rect x="198.85" y="363.45" width="2.8" height="2.8" fill="#A3002A" stroke="#3a3a3a" stroke-width="0.6"/>
<text x="204.4" y="367" font-size="5.1" fill="#222" stroke="#222" stroke-width="0.14">Grade 3 (n = 0)</text>
<text x="448.8" y="261" font-size="5.05" font-weight="bold" fill="#000" stroke="#000" stroke-width="0.2">Lymphopenia</text>
<rect x="448.85" y="265.45" width="2.8" height="2.8" fill="#FAEEDF" stroke="#3a3a3a" stroke-width="0.6"/>
<text x="454.4" y="269" font-size="5.1" fill="#222" stroke="#222" stroke-width="0.14">Grade ≤2 (n = 16)</text>
<rect x="448.85" y="271.45" width="2.8" height="2.8" fill="#C5C4CA" stroke="#3a3a3a" stroke-width="0.6"/>
<text x="454.4" y="275" font-size="5.1" fill="#222" stroke="#222" stroke-width="0.14">Grade 3 (n = 1)</text>
<rect x="448.85" y="277.45" width="2.8" height="2.8" fill="#4D5466" stroke="#3a3a3a" stroke-width="0.6"/>
<text x="454.4" y="281" font-size="5.1" fill="#222" stroke="#222" stroke-width="0.14">Grade 4 (n = 0)</text>
<text x="448.8" y="292" font-size="5.05" font-weight="bold" fill="#000" stroke="#000" stroke-width="0.2">Neutropenia</text>
<rect x="448.85" y="296.45" width="2.8" height="2.8" fill="#FAEEDF" stroke="#3a3a3a" stroke-width="0.6"/>
<text x="454.4" y="300" font-size="5.1" fill="#222" stroke="#222" stroke-width="0.14">Grade ≤2 (n = 12)</text>
<rect x="448.85" y="302.45" width="2.8" height="2.8" fill="#E8B81E" stroke="#3a3a3a" stroke-width="0.6"/>
<text x="454.4" y="306" font-size="5.1" fill="#222" stroke="#222" stroke-width="0.14">Grade 3 (n = 4)</text>
<rect x="448.85" y="308.45" width="2.8" height="2.8" fill="#DE8A16" stroke="#3a3a3a" stroke-width="0.6"/>
<text x="454.4" y="312" font-size="5.1" fill="#222" stroke="#222" stroke-width="0.14">Grade 4 (n = 1)</text>
<text x="448.8" y="323" font-size="5.05" font-weight="bold" fill="#000" stroke="#000" stroke-width="0.2">Thrombocytopenia</text>
<rect x="448.85" y="327.45" width="2.8" height="2.8" fill="#FAEEDF" stroke="#3a3a3a" stroke-width="0.6"/>
<text x="454.4" y="331" font-size="5.1" fill="#222" stroke="#222" stroke-width="0.14">Grade ≤2 (n = 17)</text>
<rect x="448.85" y="333.45" width="2.8" height="2.8" fill="#6AA9DF" stroke="#3a3a3a" stroke-width="0.6"/>
<text x="454.4" y="337" font-size="5.1" fill="#222" stroke="#222" stroke-width="0.14">Grade 3 (n = 0)</text>
<rect x="448.85" y="339.45" width="2.8" height="2.8" fill="#2D4B7C" stroke="#3a3a3a" stroke-width="0.6"/>
<text x="454.4" y="343" font-size="5.1" fill="#222" stroke="#222" stroke-width="0.14">Grade 4 (n = 0)</text>
<text x="448.8" y="354" font-size="5.05" font-weight="bold" fill="#000" stroke="#000" stroke-width="0.2">Anemia</text>
<rect x="448.85" y="357.45" width="2.8" height="2.8" fill="#FAEEDF" stroke="#3a3a3a" stroke-width="0.6"/>
<text x="454.4" y="361" font-size="5.1" fill="#222" stroke="#222" stroke-width="0.14">Grade ≤2 (n = 17)</text>
<rect x="448.85" y="363.45" width="2.8" height="2.8" fill="#A3002A" stroke="#3a3a3a" stroke-width="0.6"/>
<text x="454.4" y="367" font-size="5.1" fill="#222" stroke="#222" stroke-width="0.14">Grade 3 (n = 0)</text>
<rect x="50.5" y="429.2" width="30.5" height="3.0" fill="#C2C0C6"/>
<rect x="81" y="429.2" width="101" height="3.0" fill="#5FA8E0"/>
<rect x="195.3" y="429.2" width="247" height="3.0" fill="#5FA8E0"/>
<rect x="57.3" y="429.6" width="2.2" height="2.2" fill="#E58A12" stroke="#7a4200" stroke-width="0.4"/>
<path d="M442.3,430.7L447.3,430.7" stroke="#222" stroke-width="0.75"/>
<path d="M449.1,430.7L446.6,429.45L446.6,431.95Z" fill="#000"/>
<text x="38.2" y="432.65" font-size="5.4" fill="#333" stroke="#333" stroke-width="0.08" textLength="5.8" lengthAdjust="spacingAndGlyphs">45</text>
<rect x="50.5" y="433.47" width="31.5" height="3.0" fill="#C2C0C6"/>
<rect x="82" y="433.47" width="100" height="3.0" fill="#A7B77A"/>
<rect x="195.3" y="433.47" width="222.4" height="3.0" fill="#A7B77A"/>
<circle cx="54.7" cy="434.97" r="1.0" fill="#7090C8"/>
<circle cx="60.5" cy="434.97" r="1.0" fill="#7090C8"/>
<circle cx="75.6" cy="434.97" r="1.0" fill="#7090C8"/>
<path d="M54.9,436.02L57.3,436.02L56.1,433.82Z" fill="#9E0018" stroke="#5a0010" stroke-width="0.25"/>
<path d="M68.8,436.02L71.2,436.02L70,433.82Z" fill="#9E0018" stroke="#5a0010" stroke-width="0.25"/>
<path d="M80.1,436.02L82.5,436.02L81.3,433.82Z" fill="#9E0018" stroke="#5a0010" stroke-width="0.25"/>
<rect x="112.2" y="433.87" width="2.2" height="2.2" fill="#E58A12" stroke="#7a4200" stroke-width="0.4"/>
<path d="M417.7,434.97L422.7,434.97" stroke="#222" stroke-width="0.75"/>
<path d="M424.5,434.97L422,433.72L422,436.22Z" fill="#000"/>
<text x="38.2" y="436.92" font-size="5.4" fill="#333" stroke="#333" stroke-width="0.08" textLength="5.8" lengthAdjust="spacingAndGlyphs">05</text>
<rect x="50.5" y="437.74" width="31.8" height="3.0" fill="#C2C0C6"/>
<rect x="82.3" y="437.74" width="99.7" height="3.0" fill="#A7B77A"/>
<rect x="195.3" y="437.74" width="215.1" height="3.0" fill="#A7B77A"/>
<circle cx="56.1" cy="439.24" r="1.0" fill="#7090C8"/>
<path d="M58.3,440.29L60.7,440.29L59.5,438.09Z" fill="#9E0018" stroke="#5a0010" stroke-width="0.25"/>
<rect x="399.3" y="438.14" width="2.2" height="2.2" fill="#E58A12" stroke="#7a4200" stroke-width="0.4"/>
<path d="M410.4,439.24L415.4,439.24" stroke="#222" stroke-width="0.75"/>
<path d="M417.2,439.24L414.7,437.99L414.7,440.49Z" fill="#000"/>
<text x="38.2" y="441.19" font-size="5.4" fill="#333" stroke="#333" stroke-width="0.08" textLength="5.8" lengthAdjust="spacingAndGlyphs">09</text>
<rect x="50.5" y="442.02" width="29.8" height="3.0" fill="#C2C0C6"/>
<rect x="80.3" y="442.02" width="101.7" height="3.0" fill="#A7B77A"/>
<rect x="195.3" y="442.02" width="200.3" height="3.0" fill="#A7B77A"/>
<path d="M47.8,444.57L50.2,444.57L49,442.37Z" fill="#9E0018" stroke="#5a0010" stroke-width="0.25"/>
<path d="M52.6,444.57L55,444.57L53.8,442.37Z" fill="#9E0018" stroke="#5a0010" stroke-width="0.25"/>
<rect x="71.1" y="442.42" width="2.2" height="2.2" fill="#E58A12" stroke="#7a4200" stroke-width="0.4"/>
<path d="M395.6,443.52L400.6,443.52" stroke="#222" stroke-width="0.75"/>
<path d="M402.4,443.52L399.9,442.27L399.9,444.77Z" fill="#000"/>
<text x="38.2" y="445.47" font-size="5.4" fill="#333" stroke="#333" stroke-width="0.08" textLength="5.8" lengthAdjust="spacingAndGlyphs">19</text>
<rect x="50.5" y="446.29" width="30.8" height="3.0" fill="#C2C0C6"/>
<rect x="81.3" y="446.29" width="68.2" height="3.0" fill="#EAB70C"/>
<rect x="149.5" y="446.29" width="32.5" height="3.0" fill="#A7B77A"/>
<rect x="195.3" y="446.29" width="193.9" height="3.0" fill="#A7B77A"/>
<circle cx="59.5" cy="447.79" r="1.0" fill="#7090C8"/>
<circle cx="75.6" cy="447.79" r="1.0" fill="#7090C8"/>
<circle cx="93.8" cy="447.79" r="1.0" fill="#7090C8"/>
<path d="M50.2,448.84L52.6,448.84L51.4,446.64Z" fill="#9E0018" stroke="#5a0010" stroke-width="0.25"/>
<path d="M80.1,448.84L82.5,448.84L81.3,446.64Z" fill="#9E0018" stroke="#5a0010" stroke-width="0.25"/>
<path d="M84.9,448.84L87.3,448.84L86.1,446.64Z" fill="#9E0018" stroke="#5a0010" stroke-width="0.25"/>
<path d="M98.6,448.84L101,448.84L99.8,446.64Z" fill="#9E0018" stroke="#5a0010" stroke-width="0.25"/>
<path d="M123.8,448.84L126.2,448.84L125,446.64Z" fill="#9E0018" stroke="#5a0010" stroke-width="0.25"/>
<rect x="267.4" y="446.69" width="2.2" height="2.2" fill="#E58A12" stroke="#7a4200" stroke-width="0.4"/>
<path d="M389.2,447.79L394.2,447.79" stroke="#222" stroke-width="0.75"/>
<path d="M396,447.79L393.5,446.54L393.5,449.04Z" fill="#000"/>
<text x="38.2" y="449.74" font-size="5.4" fill="#333" stroke="#333" stroke-width="0.08" textLength="5.8" lengthAdjust="spacingAndGlyphs">12</text>
<rect x="50.5" y="450.56" width="31.8" height="3.0" fill="#C2C0C6"/>
<rect x="82.3" y="450.56" width="99.7" height="3.0" fill="#A7B77A"/>
<rect x="195.3" y="450.56" width="189.3" height="3.0" fill="#A7B77A"/>
<path d="M384.6,452.06L389.6,452.06" stroke="#222" stroke-width="0.75"/>
<path d="M391.4,452.06L388.9,450.81L388.9,453.31Z" fill="#000"/>
<text x="38.2" y="454.01" font-size="5.4" fill="#333" stroke="#333" stroke-width="0.08" textLength="5.8" lengthAdjust="spacingAndGlyphs">10</text>
<rect x="50.5" y="454.83" width="30.8" height="3.0" fill="#C2C0C6"/>
<rect x="81.3" y="454.83" width="100.7" height="3.0" fill="#A7B77A"/>
<rect x="195.3" y="454.83" width="182.8" height="3.0" fill="#A7B77A"/>
<path d="M50.2,457.38L52.6,457.38L51.4,455.18Z" fill="#9E0018" stroke="#5a0010" stroke-width="0.25"/>
<circle cx="76.7" cy="456.33" r="1.0" fill="#7090C8"/>
<rect x="81.2" y="455.23" width="2.2" height="2.2" fill="#E58A12" stroke="#7a4200" stroke-width="0.4"/>
<path d="M378.1,456.33L383.1,456.33" stroke="#222" stroke-width="0.75"/>
<path d="M384.9,456.33L382.4,455.08L382.4,457.58Z" fill="#000"/>
<text x="38.2" y="458.28" font-size="5.4" fill="#333" stroke="#333" stroke-width="0.08" textLength="5.8" lengthAdjust="spacingAndGlyphs">29</text>
<rect x="50.5" y="459.1" width="30.2" height="3.0" fill="#C2C0C6"/>
<rect x="80.7" y="459.1" width="73.2" height="3.0" fill="#EAB70C"/>
<rect x="153.9" y="459.1" width="28.1" height="3.0" fill="#A7B77A"/>
<rect x="195.3" y="459.1" width="178.5" height="3.0" fill="#A7B77A"/>
<circle cx="51.1" cy="460.6" r="1.0" fill="#7090C8"/>
<circle cx="60.8" cy="460.6" r="1.0" fill="#7090C8"/>
<circle cx="64.2" cy="460.6" r="1.0" fill="#7090C8"/>
<circle cx="82.3" cy="460.6" r="1.0" fill="#7090C8"/>
<path d="M47.8,461.65L50.2,461.65L49,459.45Z" fill="#9E0018" stroke="#5a0010" stroke-width="0.25"/>
<path d="M51.3,461.65L53.7,461.65L52.5,459.45Z" fill="#9E0018" stroke="#5a0010" stroke-width="0.25"/>
<path d="M65.7,461.65L68.1,461.65L66.9,459.45Z" fill="#9E0018" stroke="#5a0010" stroke-width="0.25"/>
<path d="M68,461.65L70.4,461.65L69.2,459.45Z" fill="#9E0018" stroke="#5a0010" stroke-width="0.25"/>
<path d="M70.4,461.65L72.8,461.65L71.6,459.45Z" fill="#9E0018" stroke="#5a0010" stroke-width="0.25"/>
<path d="M72.8,461.65L75.2,461.65L74,459.45Z" fill="#9E0018" stroke="#5a0010" stroke-width="0.25"/>
<path d="M79.1,461.65L81.5,461.65L80.3,459.45Z" fill="#9E0018" stroke="#5a0010" stroke-width="0.25"/>
<path d="M80.5,461.65L82.9,461.65L81.7,459.45Z" fill="#9E0018" stroke="#5a0010" stroke-width="0.25"/>
<path d="M89.2,461.65L91.6,461.65L90.4,459.45Z" fill="#9E0018" stroke="#5a0010" stroke-width="0.25"/>
<rect x="340.4" y="459.5" width="2.2" height="2.2" fill="#E58A12" stroke="#7a4200" stroke-width="0.4"/>
<path d="M373.8,460.6L378.8,460.6" stroke="#222" stroke-width="0.75"/>
<path d="M380.6,460.6L378.1,459.35L378.1,461.85Z" fill="#000"/>
<text x="38.2" y="462.55" font-size="5.4" fill="#333" stroke="#333" stroke-width="0.08" textLength="5.8" lengthAdjust="spacingAndGlyphs">35</text>
<rect x="50.5" y="463.38" width="30.8" height="3.0" fill="#C2C0C6"/>
<rect x="81.3" y="463.38" width="71.7" height="3.0" fill="#EAB70C"/>
<rect x="153" y="463.38" width="29" height="3.0" fill="#A7B77A"/>
<rect x="195.3" y="463.38" width="178" height="3.0" fill="#A7B77A"/>
<path d="M50.2,465.93L52.6,465.93L51.4,463.73Z" fill="#9E0018" stroke="#5a0010" stroke-width="0.25"/>
<path d="M90.6,465.93L93,465.93L91.8,463.73Z" fill="#9E0018" stroke="#5a0010" stroke-width="0.25"/>
<rect x="294.1" y="463.78" width="2.2" height="2.2" fill="#E58A12" stroke="#7a4200" stroke-width="0.4"/>
<path d="M373.3,464.88L378.3,464.88" stroke="#222" stroke-width="0.75"/>
<path d="M380.1,464.88L377.6,463.63L377.6,466.13Z" fill="#000"/>
<text x="38.2" y="466.83" font-size="5.4" fill="#333" stroke="#333" stroke-width="0.08" textLength="5.8" lengthAdjust="spacingAndGlyphs">38</text>
<rect x="50.5" y="467.65" width="30.8" height="3.0" fill="#C2C0C6"/>
<rect x="81.3" y="467.65" width="100.7" height="3.0" fill="#EAB70C"/>
<rect x="195.3" y="467.65" width="21.3" height="3.0" fill="#EAB70C"/>
<rect x="216.6" y="467.65" width="155.7" height="3.0" fill="#A7B77A"/>
<rect x="82.6" y="468.05" width="2.2" height="2.2" fill="#E58A12" stroke="#7a4200" stroke-width="0.4"/>
<path d="M372.3,469.15L377.3,469.15" stroke="#222" stroke-width="0.75"/>
<path d="M379.1,469.15L376.6,467.9L376.6,470.4Z" fill="#000"/>
<text x="38.2" y="471.1" font-size="5.4" fill="#333" stroke="#333" stroke-width="0.08" textLength="5.8" lengthAdjust="spacingAndGlyphs">37</text>
<rect x="50.5" y="471.92" width="30.8" height="3.0" fill="#C2C0C6"/>
<rect x="81.3" y="471.92" width="100.7" height="3.0" fill="#A7B77A"/>
<rect x="195.3" y="471.92" width="175.7" height="3.0" fill="#A7B77A"/>
<rect x="281.6" y="472.32" width="2.2" height="2.2" fill="#E58A12" stroke="#7a4200" stroke-width="0.4"/>
<path d="M371,473.42L376,473.42" stroke="#222" stroke-width="0.75"/>
<path d="M377.8,473.42L375.3,472.17L375.3,474.67Z" fill="#000"/>
<text x="38.2" y="475.37" font-size="5.4" fill="#333" stroke="#333" stroke-width="0.08" textLength="5.8" lengthAdjust="spacingAndGlyphs">24</text>
<rect x="50.5" y="476.19" width="30.8" height="3.0" fill="#C2C0C6"/>
<rect x="81.3" y="476.19" width="100.7" height="3.0" fill="#EAB70C"/>
<rect x="195.3" y="476.19" width="20.3" height="3.0" fill="#EAB70C"/>
<rect x="215.6" y="476.19" width="133.9" height="3.0" fill="#A7B77A"/>
<rect x="215.4" y="476.59" width="2.2" height="2.2" fill="#E58A12" stroke="#7a4200" stroke-width="0.4"/>
<path d="M349.5,477.69L354.5,477.69" stroke="#222" stroke-width="0.75"/>
<path d="M356.3,477.69L353.8,476.44L353.8,478.94Z" fill="#000"/>
<text x="38.2" y="479.64" font-size="5.4" fill="#333" stroke="#333" stroke-width="0.08" textLength="5.8" lengthAdjust="spacingAndGlyphs">50</text>
<rect x="50.5" y="480.46" width="30.8" height="3.0" fill="#C2C0C6"/>
<rect x="81.3" y="480.46" width="100.7" height="3.0" fill="#A7B77A"/>
<rect x="195.3" y="480.46" width="151.5" height="3.0" fill="#A7B77A"/>
<rect x="95.1" y="480.86" width="2.2" height="2.2" fill="#E58A12" stroke="#7a4200" stroke-width="0.4"/>
<path d="M346.8,481.96L351.8,481.96" stroke="#222" stroke-width="0.75"/>
<path d="M353.6,481.96L351.1,480.71L351.1,483.21Z" fill="#000"/>
<text x="38.2" y="483.91" font-size="5.4" fill="#333" stroke="#333" stroke-width="0.08" textLength="5.8" lengthAdjust="spacingAndGlyphs">60</text>
<rect x="50.5" y="484.74" width="30.8" height="3.0" fill="#C2C0C6"/>
<rect x="81.3" y="484.74" width="100.7" height="3.0" fill="#EAB70C"/>
<rect x="195.3" y="484.74" width="65.3" height="3.0" fill="#EAB70C"/>
<rect x="260.6" y="484.74" width="86.2" height="3.0" fill="#A7B77A"/>
<path d="M51.3,487.29L53.7,487.29L52.5,485.09Z" fill="#9E0018" stroke="#5a0010" stroke-width="0.25"/>
<rect x="57.3" y="485.14" width="2.2" height="2.2" fill="#E58A12" stroke="#7a4200" stroke-width="0.4"/>
<path d="M346.8,486.24L351.8,486.24" stroke="#222" stroke-width="0.75"/>
<path d="M353.6,486.24L351.1,484.99L351.1,487.49Z" fill="#000"/>
<text x="38.2" y="488.19" font-size="5.4" fill="#333" stroke="#333" stroke-width="0.08" textLength="5.8" lengthAdjust="spacingAndGlyphs">42</text>
<rect x="50.5" y="489.01" width="30.8" height="3.0" fill="#C2C0C6"/>
<rect x="81.3" y="489.01" width="100.7" height="3.0" fill="#5FA8E0"/>
<rect x="195.3" y="489.01" width="73.9" height="3.0" fill="#5FA8E0"/>
<rect x="269.2" y="489.01" width="54.4" height="3.0" fill="#A7B77A"/>
<path d="M48.6,491.56L51,491.56L49.8,489.36Z" fill="#9E0018" stroke="#5a0010" stroke-width="0.25"/>
<rect x="58.4" y="489.41" width="2.2" height="2.2" fill="#E58A12" stroke="#7a4200" stroke-width="0.4"/>
<path d="M323.6,490.51L328.6,490.51" stroke="#222" stroke-width="0.75"/>
<path d="M330.4,490.51L327.9,489.26L327.9,491.76Z" fill="#000"/>
<text x="38.2" y="492.46" font-size="5.4" fill="#333" stroke="#333" stroke-width="0.08" textLength="5.8" lengthAdjust="spacingAndGlyphs">58</text>
<rect x="50.5" y="493.28" width="30.8" height="3.0" fill="#C2C0C6"/>
<rect x="81.3" y="493.28" width="100.7" height="3.0" fill="#A7B77A"/>
<rect x="195.3" y="493.28" width="120.2" height="3.0" fill="#A7B77A"/>
<circle cx="61.5" cy="494.78" r="1.0" fill="#7090C8"/>
<circle cx="62.9" cy="494.78" r="1.0" fill="#7090C8"/>
<circle cx="64.2" cy="494.78" r="1.0" fill="#7090C8"/>
<path d="M49.1,495.83L51.5,495.83L50.3,493.63Z" fill="#9E0018" stroke="#5a0010" stroke-width="0.25"/>
<path d="M53.5,495.83L55.9,495.83L54.7,493.63Z" fill="#9E0018" stroke="#5a0010" stroke-width="0.25"/>
<path d="M65.3,495.83L67.7,495.83L66.5,493.63Z" fill="#9E0018" stroke="#5a0010" stroke-width="0.25"/>
<rect x="142.1" y="493.68" width="2.2" height="2.2" fill="#E58A12" stroke="#7a4200" stroke-width="0.4"/>
<path d="M315.5,494.78L320.5,494.78" stroke="#222" stroke-width="0.75"/>
<path d="M322.3,494.78L319.8,493.53L319.8,496.03Z" fill="#000"/>
<text x="38.2" y="496.73" font-size="5.4" fill="#333" stroke="#333" stroke-width="0.08" textLength="5.8" lengthAdjust="spacingAndGlyphs">64</text>
<rect x="50.5" y="497.55" width="30.8" height="3.0" fill="#C2C0C6"/>
<rect x="81.3" y="497.55" width="100.7" height="3.0" fill="#A7B77A"/>
<rect x="195.3" y="497.55" width="87.9" height="3.0" fill="#A7B77A"/>
<path d="M50.5,500.1L52.9,500.1L51.7,497.9Z" fill="#9E0018" stroke="#5a0010" stroke-width="0.25"/>
<rect x="256.7" y="497.95" width="2.2" height="2.2" fill="#E58A12" stroke="#7a4200" stroke-width="0.4"/>
<path d="M283.2,499.05L288.2,499.05" stroke="#222" stroke-width="0.75"/>
<path d="M290,499.05L287.5,497.8L287.5,500.3Z" fill="#000"/>
<text x="38.2" y="501" font-size="5.4" fill="#333" stroke="#333" stroke-width="0.08" textLength="5.8" lengthAdjust="spacingAndGlyphs">73</text>
<rect x="50.5" y="501.82" width="30.8" height="3.0" fill="#C2C0C6"/>
<rect x="81.3" y="501.82" width="100.7" height="3.0" fill="#EAB70C"/>
<rect x="195.3" y="501.82" width="21.9" height="3.0" fill="#EAB70C"/>
<rect x="217.2" y="501.82" width="61.5" height="3.0" fill="#A7B77A"/>
<path d="M47.8,504.37L50.2,504.37L49,502.17Z" fill="#9E0018" stroke="#5a0010" stroke-width="0.25"/>
<rect x="164.1" y="502.22" width="2.2" height="2.2" fill="#E58A12" stroke="#7a4200" stroke-width="0.4"/>
<path d="M278.7,503.32L283.7,503.32" stroke="#222" stroke-width="0.75"/>
<path d="M285.5,503.32L283,502.07L283,504.57Z" fill="#000"/>
<text x="38.2" y="505.27" font-size="5.4" fill="#333" stroke="#333" stroke-width="0.08" textLength="5.8" lengthAdjust="spacingAndGlyphs">74</text>
<rect x="50.5" y="506.1" width="30.8" height="3.0" fill="#C2C0C6"/>
<rect x="81.3" y="506.1" width="100.7" height="3.0" fill="#EAB70C"/>
<rect x="195.3" y="506.1" width="21.9" height="3.0" fill="#EAB70C"/>
<rect x="217.2" y="506.1" width="56.1" height="3.0" fill="#A7B77A"/>
<path d="M48.8,508.65L51.2,508.65L50,506.45Z" fill="#9E0018" stroke="#5a0010" stroke-width="0.25"/>
<rect x="76.8" y="506.5" width="2.2" height="2.2" fill="#E58A12" stroke="#7a4200" stroke-width="0.4"/>
<path d="M273.3,507.6L278.3,507.6" stroke="#222" stroke-width="0.75"/>
<path d="M280.1,507.6L277.6,506.35L277.6,508.85Z" fill="#000"/>
<text x="38.2" y="509.55" font-size="5.4" fill="#333" stroke="#333" stroke-width="0.08" textLength="5.8" lengthAdjust="spacingAndGlyphs">25</text>
<rect x="50.5" y="510.37" width="30.8" height="3.0" fill="#C2C0C6"/>
<rect x="81.3" y="510.37" width="92.3" height="3.0" fill="#EAB70C"/>
<rect x="173.6" y="510.37" width="8.4" height="3.0" fill="#A7B77A"/>
<rect x="195.3" y="510.37" width="2.7" height="3.0" fill="#A7B77A"/>
<circle cx="55.7" cy="511.87" r="1.0" fill="#7090C8"/>
<circle cx="59.5" cy="511.87" r="1.0" fill="#7090C8"/>
<circle cx="62.8" cy="511.87" r="1.0" fill="#7090C8"/>
<path d="M53.5,512.92L55.9,512.92L54.7,510.72Z" fill="#9E0018" stroke="#5a0010" stroke-width="0.25"/>
<path d="M62,512.92L64.4,512.92L63.2,510.72Z" fill="#9E0018" stroke="#5a0010" stroke-width="0.25"/>
<path d="M69.7,512.92L72.1,512.92L70.9,510.72Z" fill="#9E0018" stroke="#5a0010" stroke-width="0.25"/>
<rect x="198.4" y="510.77" width="2.2" height="2.2" fill="#E58A12" stroke="#7a4200" stroke-width="0.4"/>
<path d="M199.85,510.42L202.75,513.32M199.85,513.32L202.75,510.42" stroke="#000" stroke-width="0.85"/>
<text x="38.2" y="513.82" font-size="5.4" fill="#333" stroke="#333" stroke-width="0.08" textLength="5.8" lengthAdjust="spacingAndGlyphs">32</text>
<rect x="50.5" y="514.64" width="30.8" height="3.0" fill="#C2C0C6"/>
<rect x="81.3" y="514.64" width="72.6" height="3.0" fill="#A7B77A"/>
<rect x="153.9" y="514.64" width="28.1" height="3.0" fill="#A1001A"/>
<rect x="195.3" y="514.64" width="220" height="3.0" fill="#A1001A"/>
<rect x="56.3" y="515.04" width="2.2" height="2.2" fill="#E58A12" stroke="#7a4200" stroke-width="0.4"/>
<text x="38.2" y="518.09" font-size="5.4" fill="#333" stroke="#333" stroke-width="0.08" textLength="5.8" lengthAdjust="spacingAndGlyphs">04</text>
<rect x="50.5" y="518.91" width="31.5" height="3.0" fill="#C2C0C6"/>
<rect x="82" y="518.91" width="100" height="3.0" fill="#A7B77A"/>
<rect x="195.3" y="518.91" width="30.5" height="3.0" fill="#A7B77A"/>
<rect x="225.8" y="518.91" width="184.9" height="3.0" fill="#A1001A"/>
<rect x="72.2" y="519.31" width="2.2" height="2.2" fill="#E58A12" stroke="#7a4200" stroke-width="0.4"/>
<text x="38.2" y="522.36" font-size="5.4" fill="#333" stroke="#333" stroke-width="0.08" textLength="5.8" lengthAdjust="spacingAndGlyphs">26</text>
<rect x="50.5" y="523.18" width="30.8" height="3.0" fill="#C2C0C6"/>
<rect x="81.3" y="523.18" width="100.7" height="3.0" fill="#EAB70C"/>
<rect x="195.3" y="523.18" width="9.7" height="3.0" fill="#EAB70C"/>
<rect x="205" y="523.18" width="196.8" height="3.0" fill="#A1001A"/>
<circle cx="51.7" cy="524.68" r="1.0" fill="#7090C8"/>
<rect x="56.3" y="523.58" width="2.2" height="2.2" fill="#E58A12" stroke="#7a4200" stroke-width="0.4"/>
<text x="38.2" y="526.63" font-size="5.4" fill="#333" stroke="#333" stroke-width="0.08" textLength="5.8" lengthAdjust="spacingAndGlyphs">55</text>
<rect x="50.5" y="527.46" width="30.8" height="3.0" fill="#C2C0C6"/>
<rect x="81.3" y="527.46" width="75.1" height="3.0" fill="#5FA8E0"/>
<rect x="156.4" y="527.46" width="25.6" height="3.0" fill="#A1001A"/>
<rect x="195.3" y="527.46" width="175.7" height="3.0" fill="#A1001A"/>
<rect x="74.2" y="527.86" width="2.2" height="2.2" fill="#E58A12" stroke="#7a4200" stroke-width="0.4"/>
<text x="38.2" y="530.91" font-size="5.4" fill="#333" stroke="#333" stroke-width="0.08" textLength="5.8" lengthAdjust="spacingAndGlyphs">40</text>
<rect x="50.5" y="531.73" width="29.8" height="3.0" fill="#C2C0C6"/>
<rect x="80.3" y="531.73" width="76.1" height="3.0" fill="#EAB70C"/>
<rect x="156.4" y="531.73" width="25.6" height="3.0" fill="#A1001A"/>
<rect x="195.3" y="531.73" width="174.1" height="3.0" fill="#A1001A"/>
<circle cx="57.4" cy="533.23" r="1.0" fill="#7090C8"/>
<circle cx="84.4" cy="533.23" r="1.0" fill="#7090C8"/>
<path d="M52.6,534.28L55,534.28L53.8,532.08Z" fill="#9E0018" stroke="#5a0010" stroke-width="0.25"/>
<path d="M69.7,534.28L72.1,534.28L70.9,532.08Z" fill="#9E0018" stroke="#5a0010" stroke-width="0.25"/>
<path d="M71.3,534.28L73.7,534.28L72.5,532.08Z" fill="#9E0018" stroke="#5a0010" stroke-width="0.25"/>
<path d="M72.8,534.28L75.2,534.28L74,532.08Z" fill="#9E0018" stroke="#5a0010" stroke-width="0.25"/>
<path d="M74.3,534.28L76.7,534.28L75.5,532.08Z" fill="#9E0018" stroke="#5a0010" stroke-width="0.25"/>
<rect x="79.2" y="532.13" width="2.2" height="2.2" fill="#E58A12" stroke="#7a4200" stroke-width="0.4"/>
<text x="38.2" y="535.18" font-size="5.4" fill="#333" stroke="#333" stroke-width="0.08" textLength="5.8" lengthAdjust="spacingAndGlyphs">18</text>
<rect x="50.5" y="536" width="30.8" height="3.0" fill="#C2C0C6"/>
<rect x="81.3" y="536" width="67.8" height="3.0" fill="#EAB70C"/>
<rect x="149.1" y="536" width="32.9" height="3.0" fill="#A1001A"/>
<rect x="195.3" y="536" width="156.1" height="3.0" fill="#A1001A"/>
<rect x="97.4" y="536.4" width="2.2" height="2.2" fill="#E58A12" stroke="#7a4200" stroke-width="0.4"/>
<path d="M351.05,536.05L353.95,538.95M351.05,538.95L353.95,536.05" stroke="#000" stroke-width="0.85"/>
<text x="38.2" y="539.45" font-size="5.4" fill="#333" stroke="#333" stroke-width="0.08" textLength="5.8" lengthAdjust="spacingAndGlyphs">44</text>
<rect x="50.5" y="540.27" width="29.8" height="3.0" fill="#C2C0C6"/>
<rect x="80.3" y="540.27" width="101.7" height="3.0" fill="#A7B77A"/>
<rect x="195.3" y="540.27" width="2.2" height="3.0" fill="#A7B77A"/>
<rect x="197.5" y="540.27" width="131" height="3.0" fill="#A1001A"/>
<rect x="56.3" y="540.67" width="2.2" height="2.2" fill="#E58A12" stroke="#7a4200" stroke-width="0.4"/>
<path d="M328.15,540.32L331.05,543.22M328.15,543.22L331.05,540.32" stroke="#000" stroke-width="0.85"/>
<text x="38.2" y="543.72" font-size="5.4" fill="#333" stroke="#333" stroke-width="0.08" textLength="5.8" lengthAdjust="spacingAndGlyphs">56</text>
<rect x="50.5" y="544.54" width="30.8" height="3.0" fill="#C2C0C6"/>
<rect x="81.3" y="544.54" width="100.7" height="3.0" fill="#A7B77A"/>
<rect x="195.3" y="544.54" width="79.5" height="3.0" fill="#A7B77A"/>
<rect x="274.8" y="544.54" width="62.3" height="3.0" fill="#A1001A"/>
<path d="M47.8,547.09L50.2,547.09L49,544.89Z" fill="#9E0018" stroke="#5a0010" stroke-width="0.25"/>
<circle cx="75.6" cy="546.04" r="1.0" fill="#7090C8"/>
<rect x="274.3" y="544.94" width="2.2" height="2.2" fill="#E58A12" stroke="#7a4200" stroke-width="0.4"/>
<text x="38.2" y="547.99" font-size="5.4" fill="#333" stroke="#333" stroke-width="0.08" textLength="5.8" lengthAdjust="spacingAndGlyphs">27</text>
<rect x="50.5" y="548.82" width="30.8" height="3.0" fill="#C2C0C6"/>
<rect x="81.3" y="548.82" width="100.7" height="3.0" fill="#A7B77A"/>
<rect x="195.3" y="548.82" width="22.7" height="3.0" fill="#A7B77A"/>
<rect x="218" y="548.82" width="100.2" height="3.0" fill="#A1001A"/>
<rect x="160.7" y="549.22" width="2.2" height="2.2" fill="#E58A12" stroke="#7a4200" stroke-width="0.4"/>
<path d="M317.85,548.87L320.75,551.77M317.85,551.77L320.75,548.87" stroke="#000" stroke-width="0.85"/>
<text x="38.2" y="552.27" font-size="5.4" fill="#333" stroke="#333" stroke-width="0.08" textLength="5.8" lengthAdjust="spacingAndGlyphs">11</text>
<rect x="50.5" y="553.09" width="30.8" height="3.0" fill="#C2C0C6"/>
<rect x="81.3" y="553.09" width="64.1" height="3.0" fill="#A7B77A"/>
<rect x="145.4" y="553.09" width="36.6" height="3.0" fill="#A1001A"/>
<rect x="195.3" y="553.09" width="113.1" height="3.0" fill="#A1001A"/>
<circle cx="51" cy="554.59" r="1.0" fill="#7090C8"/>
<circle cx="55" cy="554.59" r="1.0" fill="#7090C8"/>
<circle cx="62" cy="554.59" r="1.0" fill="#7090C8"/>
<circle cx="64.5" cy="554.59" r="1.0" fill="#7090C8"/>
<circle cx="66.5" cy="554.59" r="1.0" fill="#7090C8"/>
<circle cx="77" cy="554.59" r="1.0" fill="#7090C8"/>
<circle cx="83" cy="554.59" r="1.0" fill="#7090C8"/>
<circle cx="90" cy="554.59" r="1.0" fill="#7090C8"/>
<circle cx="95" cy="554.59" r="1.0" fill="#7090C8"/>
<circle cx="101" cy="554.59" r="1.0" fill="#7090C8"/>
<circle cx="107.5" cy="554.59" r="1.0" fill="#7090C8"/>
<circle cx="120.6" cy="554.59" r="1.0" fill="#7090C8"/>
<circle cx="122.7" cy="554.59" r="1.0" fill="#7090C8"/>
<circle cx="127.4" cy="554.59" r="1.0" fill="#7090C8"/>
<path d="M50.2,555.64L52.6,555.64L51.4,553.44Z" fill="#9E0018" stroke="#5a0010" stroke-width="0.25"/>
<path d="M58.8,555.64L61.2,555.64L60,553.44Z" fill="#9E0018" stroke="#5a0010" stroke-width="0.25"/>
<path d="M67,555.64L69.4,555.64L68.2,553.44Z" fill="#9E0018" stroke="#5a0010" stroke-width="0.25"/>
<path d="M69.1,555.64L71.5,555.64L70.3,553.44Z" fill="#9E0018" stroke="#5a0010" stroke-width="0.25"/>
<path d="M71.3,555.64L73.7,555.64L72.5,553.44Z" fill="#9E0018" stroke="#5a0010" stroke-width="0.25"/>
<path d="M74.3,555.64L76.7,555.64L75.5,553.44Z" fill="#9E0018" stroke="#5a0010" stroke-width="0.25"/>
<path d="M87.8,555.64L90.2,555.64L89,553.44Z" fill="#9E0018" stroke="#5a0010" stroke-width="0.25"/>
<path d="M102.8,555.64L105.2,555.64L104,553.44Z" fill="#9E0018" stroke="#5a0010" stroke-width="0.25"/>
<path d="M128.8,555.64L131.2,555.64L130,553.44Z" fill="#9E0018" stroke="#5a0010" stroke-width="0.25"/>
<path d="M143.3,555.64L145.7,555.64L144.5,553.44Z" fill="#9E0018" stroke="#5a0010" stroke-width="0.25"/>
<rect x="145.8" y="553.49" width="2.2" height="2.2" fill="#E58A12" stroke="#7a4200" stroke-width="0.4"/>
<path d="M308.05,553.14L310.95,556.04M308.05,556.04L310.95,553.14" stroke="#000" stroke-width="0.85"/>
<text x="38.2" y="556.54" font-size="5.4" fill="#333" stroke="#333" stroke-width="0.08" textLength="5.8" lengthAdjust="spacingAndGlyphs">71</text>
<rect x="50.5" y="557.36" width="30.8" height="3.0" fill="#C2C0C6"/>
<rect x="81.3" y="557.36" width="75.1" height="3.0" fill="#A7B77A"/>
<rect x="156.4" y="557.36" width="25.6" height="3.0" fill="#A1001A"/>
<rect x="195.3" y="557.36" width="101.9" height="3.0" fill="#A1001A"/>
<path d="M57.2,559.91L59.6,559.91L58.4,557.71Z" fill="#9E0018" stroke="#5a0010" stroke-width="0.25"/>
<rect x="72.5" y="557.76" width="2.2" height="2.2" fill="#E58A12" stroke="#7a4200" stroke-width="0.4"/>
<text x="38.2" y="560.81" font-size="5.4" fill="#333" stroke="#333" stroke-width="0.08" textLength="5.8" lengthAdjust="spacingAndGlyphs">68</text>
<rect x="50.5" y="561.63" width="30.6" height="3.0" fill="#C2C0C6"/>
<rect x="81.1" y="561.63" width="72.1" height="3.0" fill="#EAB70C"/>
<rect x="153.2" y="561.63" width="28.8" height="3.0" fill="#A1001A"/>
<rect x="195.3" y="561.63" width="101.4" height="3.0" fill="#A1001A"/>
<path d="M51.3,564.18L53.7,564.18L52.5,561.98Z" fill="#9E0018" stroke="#5a0010" stroke-width="0.25"/>
<path d="M58.3,564.18L60.7,564.18L59.5,561.98Z" fill="#9E0018" stroke="#5a0010" stroke-width="0.25"/>
<path d="M74.3,564.18L76.7,564.18L75.5,561.98Z" fill="#9E0018" stroke="#5a0010" stroke-width="0.25"/>
<path d="M106.6,564.18L109,564.18L107.8,561.98Z" fill="#9E0018" stroke="#5a0010" stroke-width="0.25"/>
<path d="M121.7,564.18L124.1,564.18L122.9,561.98Z" fill="#9E0018" stroke="#5a0010" stroke-width="0.25"/>
<rect x="113.7" y="562.03" width="2.2" height="2.2" fill="#E58A12" stroke="#7a4200" stroke-width="0.4"/>
<text x="38.2" y="565.08" font-size="5.4" fill="#333" stroke="#333" stroke-width="0.08" textLength="5.8" lengthAdjust="spacingAndGlyphs">73</text>
<rect x="50.5" y="565.9" width="38.6" height="3.0" fill="#C2C0C6"/>
<rect x="89.1" y="565.9" width="92.9" height="3.0" fill="#A1001A"/>
<rect x="195.3" y="565.9" width="78.5" height="3.0" fill="#A1001A"/>
<rect x="54.9" y="566.3" width="2.2" height="2.2" fill="#E58A12" stroke="#7a4200" stroke-width="0.4"/>
<text x="38.2" y="569.35" font-size="5.4" fill="#333" stroke="#333" stroke-width="0.08" textLength="5.8" lengthAdjust="spacingAndGlyphs">22</text>
<rect x="50.5" y="570.18" width="33.2" height="3.0" fill="#C2C0C6"/>
<rect x="83.7" y="570.18" width="98.3" height="3.0" fill="#A1001A"/>
<rect x="195.3" y="570.18" width="54.7" height="3.0" fill="#A1001A"/>
<path d="M66.3,572.73L68.7,572.73L67.5,570.53Z" fill="#9E0018" stroke="#5a0010" stroke-width="0.25"/>
<rect x="75.7" y="570.58" width="2.2" height="2.2" fill="#E58A12" stroke="#7a4200" stroke-width="0.4"/>
<path d="M249.65,570.23L252.55,573.13M249.65,573.13L252.55,570.23" stroke="#000" stroke-width="0.85"/>
<text x="38.2" y="573.63" font-size="5.4" fill="#333" stroke="#333" stroke-width="0.08" textLength="5.8" lengthAdjust="spacingAndGlyphs">53</text>
<rect x="50.5" y="574.45" width="30.8" height="3.0" fill="#C2C0C6"/>
<rect x="81.3" y="574.45" width="100.7" height="3.0" fill="#EAB70C"/>
<rect x="195.3" y="574.45" width="22.2" height="3.0" fill="#EAB70C"/>
<rect x="217.5" y="574.45" width="11.7" height="3.0" fill="#A1001A"/>
<path d="M52.5,577L54.9,577L53.7,574.8Z" fill="#9E0018" stroke="#5a0010" stroke-width="0.25"/>
<rect x="72.3" y="574.85" width="2.2" height="2.2" fill="#E58A12" stroke="#7a4200" stroke-width="0.4"/>
<path d="M228.85,574.5L231.75,577.4M228.85,577.4L231.75,574.5" stroke="#000" stroke-width="0.85"/>
<text x="38.2" y="577.9" font-size="5.4" fill="#333" stroke="#333" stroke-width="0.08" textLength="5.8" lengthAdjust="spacingAndGlyphs">52</text>
<rect x="50.5" y="578.72" width="30.8" height="3.0" fill="#C2C0C6"/>
<rect x="81.3" y="578.72" width="75.8" height="3.0" fill="#EAB70C"/>
<rect x="157.1" y="578.72" width="24.9" height="3.0" fill="#A1001A"/>
<rect x="195.3" y="578.72" width="32.6" height="3.0" fill="#A1001A"/>
<path d="M54.6,581.27L57,581.27L55.8,579.07Z" fill="#9E0018" stroke="#5a0010" stroke-width="0.25"/>
<rect x="53.8" y="579.12" width="2.2" height="2.2" fill="#E58A12" stroke="#7a4200" stroke-width="0.4"/>
<path d="M227.55,578.77L230.45,581.67M227.55,581.67L230.45,578.77" stroke="#000" stroke-width="0.85"/>
<text x="38.2" y="582.17" font-size="5.4" fill="#333" stroke="#333" stroke-width="0.08" textLength="5.8" lengthAdjust="spacingAndGlyphs">70</text>
<rect x="50.5" y="582.99" width="30.8" height="3.0" fill="#C2C0C6"/>
<rect x="81.3" y="582.99" width="80.9" height="3.0" fill="#A7B77A"/>
<rect x="162.2" y="582.99" width="19.8" height="3.0" fill="#A1001A"/>
<rect x="195.3" y="582.99" width="17" height="3.0" fill="#A1001A"/>
<path d="M47.6,585.54L50,585.54L48.8,583.34Z" fill="#9E0018" stroke="#5a0010" stroke-width="0.25"/>
<rect x="73.1" y="583.39" width="2.2" height="2.2" fill="#E58A12" stroke="#7a4200" stroke-width="0.4"/>
<path d="M211.95,583.04L214.85,585.94M211.95,585.94L214.85,583.04" stroke="#000" stroke-width="0.85"/>
<text x="38.2" y="586.44" font-size="5.4" fill="#333" stroke="#333" stroke-width="0.08" textLength="5.8" lengthAdjust="spacingAndGlyphs">30</text>
<rect x="50.5" y="587.26" width="30.8" height="3.0" fill="#C2C0C6"/>
<rect x="81.3" y="587.26" width="18.9" height="3.0" fill="#EAB70C"/>
<rect x="100.2" y="587.26" width="81.8" height="3.0" fill="#A1001A"/>
<rect x="195.3" y="587.26" width="15.7" height="3.0" fill="#A1001A"/>
<path d="M50.8,589.81L53.2,589.81L52,587.61Z" fill="#9E0018" stroke="#5a0010" stroke-width="0.25"/>
<path d="M53,589.81L55.4,589.81L54.2,587.61Z" fill="#9E0018" stroke="#5a0010" stroke-width="0.25"/>
<path d="M55.2,589.81L57.6,589.81L56.4,587.61Z" fill="#9E0018" stroke="#5a0010" stroke-width="0.25"/>
<path d="M76.8,589.81L79.2,589.81L78,587.61Z" fill="#9E0018" stroke="#5a0010" stroke-width="0.25"/>
<circle cx="70.9" cy="588.76" r="1.0" fill="#7090C8"/>
<circle cx="102.6" cy="588.76" r="1.0" fill="#7090C8"/>
<rect x="80.3" y="587.66" width="2.2" height="2.2" fill="#E58A12" stroke="#7a4200" stroke-width="0.4"/>
<path d="M210.65,587.31L213.55,590.21M210.65,590.21L213.55,587.31" stroke="#000" stroke-width="0.85"/>
<text x="38.2" y="590.71" font-size="5.4" fill="#333" stroke="#333" stroke-width="0.08" textLength="5.8" lengthAdjust="spacingAndGlyphs">62</text>
<rect x="50.5" y="591.54" width="30.8" height="3.0" fill="#C2C0C6"/>
<rect x="81.3" y="591.54" width="35.6" height="3.0" fill="#EAB70C"/>
<rect x="116.9" y="591.54" width="65.1" height="3.0" fill="#A1001A"/>
<rect x="59.4" y="591.94" width="2.2" height="2.2" fill="#E58A12" stroke="#7a4200" stroke-width="0.4"/>
<path d="M193.25,591.59L196.15,594.49M193.25,594.49L196.15,591.59" stroke="#000" stroke-width="0.85"/>
<text x="38.2" y="594.99" font-size="5.4" fill="#333" stroke="#333" stroke-width="0.08" textLength="5.8" lengthAdjust="spacingAndGlyphs">43</text>
<rect x="50.5" y="595.81" width="30.8" height="3.0" fill="#C2C0C6"/>
<rect x="81.3" y="595.81" width="75.1" height="3.0" fill="#EAB70C"/>
<rect x="156.4" y="595.81" width="11" height="3.0" fill="#A1001A"/>
<circle cx="53.8" cy="597.31" r="1.0" fill="#7090C8"/>
<circle cx="56.8" cy="597.31" r="1.0" fill="#7090C8"/>
<circle cx="58" cy="597.31" r="1.0" fill="#7090C8"/>
<circle cx="62.8" cy="597.31" r="1.0" fill="#7090C8"/>
<path d="M48.8,598.36L51.2,598.36L50,596.16Z" fill="#9E0018" stroke="#5a0010" stroke-width="0.25"/>
<path d="M63.6,598.36L66,598.36L64.8,596.16Z" fill="#9E0018" stroke="#5a0010" stroke-width="0.25"/>
<path d="M72.4,598.36L74.8,598.36L73.6,596.16Z" fill="#9E0018" stroke="#5a0010" stroke-width="0.25"/>
<path d="M82.5,598.36L84.9,598.36L83.7,596.16Z" fill="#9E0018" stroke="#5a0010" stroke-width="0.25"/>
<path d="M107.8,598.36L110.2,598.36L109,596.16Z" fill="#9E0018" stroke="#5a0010" stroke-width="0.25"/>
<path d="M167.35,595.86L170.25,598.76M167.35,598.76L170.25,595.86" stroke="#000" stroke-width="0.85"/>
<text x="38.2" y="599.26" font-size="5.4" fill="#333" stroke="#333" stroke-width="0.08" textLength="5.8" lengthAdjust="spacingAndGlyphs">47</text>
<rect x="50.5" y="600.08" width="30.8" height="3.0" fill="#C2C0C6"/>
<rect x="81.3" y="600.08" width="79.5" height="3.0" fill="#A1001A"/>
<circle cx="84" cy="601.58" r="1.0" fill="#7090C8"/>
<circle cx="88" cy="601.58" r="1.0" fill="#7090C8"/>
<circle cx="92" cy="601.58" r="1.0" fill="#7090C8"/>
<circle cx="96" cy="601.58" r="1.0" fill="#7090C8"/>
<circle cx="100" cy="601.58" r="1.0" fill="#7090C8"/>
<circle cx="104" cy="601.58" r="1.0" fill="#7090C8"/>
<circle cx="108" cy="601.58" r="1.0" fill="#7090C8"/>
<circle cx="112" cy="601.58" r="1.0" fill="#7090C8"/>
<circle cx="116" cy="601.58" r="1.0" fill="#7090C8"/>
<circle cx="120" cy="601.58" r="1.0" fill="#7090C8"/>
<circle cx="124" cy="601.58" r="1.0" fill="#7090C8"/>
<circle cx="128" cy="601.58" r="1.0" fill="#7090C8"/>
<circle cx="132" cy="601.58" r="1.0" fill="#7090C8"/>
<circle cx="136" cy="601.58" r="1.0" fill="#7090C8"/>
<circle cx="140" cy="601.58" r="1.0" fill="#7090C8"/>
<circle cx="144" cy="601.58" r="1.0" fill="#7090C8"/>
<circle cx="148" cy="601.58" r="1.0" fill="#7090C8"/>
<circle cx="152" cy="601.58" r="1.0" fill="#7090C8"/>
<circle cx="156" cy="601.58" r="1.0" fill="#7090C8"/>
<path d="M47.6,602.63L50,602.63L48.8,600.43Z" fill="#9E0018" stroke="#5a0010" stroke-width="0.25"/>
<path d="M49,602.63L51.4,602.63L50.2,600.43Z" fill="#9E0018" stroke="#5a0010" stroke-width="0.25"/>
<path d="M50.4,602.63L52.8,602.63L51.6,600.43Z" fill="#9E0018" stroke="#5a0010" stroke-width="0.25"/>
<path d="M53.8,602.63L56.2,602.63L55,600.43Z" fill="#9E0018" stroke="#5a0010" stroke-width="0.25"/>
<path d="M58.8,602.63L61.2,602.63L60,600.43Z" fill="#9E0018" stroke="#5a0010" stroke-width="0.25"/>
<path d="M62.1,602.63L64.5,602.63L63.3,600.43Z" fill="#9E0018" stroke="#5a0010" stroke-width="0.25"/>
<path d="M65,602.63L67.4,602.63L66.2,600.43Z" fill="#9E0018" stroke="#5a0010" stroke-width="0.25"/>
<path d="M66.5,602.63L68.9,602.63L67.7,600.43Z" fill="#9E0018" stroke="#5a0010" stroke-width="0.25"/>
<path d="M68,602.63L70.4,602.63L69.2,600.43Z" fill="#9E0018" stroke="#5a0010" stroke-width="0.25"/>
<path d="M69.5,602.63L71.9,602.63L70.7,600.43Z" fill="#9E0018" stroke="#5a0010" stroke-width="0.25"/>
<path d="M71,602.63L73.4,602.63L72.2,600.43Z" fill="#9E0018" stroke="#5a0010" stroke-width="0.25"/>
<rect x="80.9" y="600.48" width="2.2" height="2.2" fill="#E58A12" stroke="#7a4200" stroke-width="0.4"/>
<path d="M160.75,600.13L163.65,603.03M160.75,603.03L163.65,600.13" stroke="#000" stroke-width="0.85"/>
<text x="38.2" y="603.53" font-size="5.4" fill="#333" stroke="#333" stroke-width="0.08" textLength="5.8" lengthAdjust="spacingAndGlyphs">51</text>
<path d="M49.3,427.3V607.4M34.3,606.2H183.3M46.2,430.7H49.3M191.3,430.7H194.4M46.2,434.97H49.3M191.3,434.97H194.4M46.2,439.24H49.3M191.3,439.24H194.4M46.2,443.52H49.3M191.3,443.52H194.4M46.2,447.79H49.3M191.3,447.79H194.4M46.2,452.06H49.3M191.3,452.06H194.4M46.2,456.33H49.3M191.3,456.33H194.4M46.2,460.6H49.3M191.3,460.6H194.4M46.2,464.88H49.3M191.3,464.88H194.4M46.2,469.15H49.3M191.3,469.15H194.4M46.2,473.42H49.3M191.3,473.42H194.4M46.2,477.69H49.3M191.3,477.69H194.4M46.2,481.96H49.3M191.3,481.96H194.4M46.2,486.24H49.3M191.3,486.24H194.4M46.2,490.51H49.3M191.3,490.51H194.4M46.2,494.78H49.3M191.3,494.78H194.4M46.2,499.05H49.3M191.3,499.05H194.4M46.2,503.32H49.3M191.3,503.32H194.4M46.2,507.6H49.3M191.3,507.6H194.4M46.2,511.87H49.3M191.3,511.87H194.4M46.2,516.14H49.3M191.3,516.14H194.4M46.2,520.41H49.3M191.3,520.41H194.4M46.2,524.68H49.3M191.3,524.68H194.4M46.2,528.96H49.3M191.3,528.96H194.4M46.2,533.23H49.3M191.3,533.23H194.4M46.2,537.5H49.3M191.3,537.5H194.4M46.2,541.77H49.3M191.3,541.77H194.4M46.2,546.04H49.3M191.3,546.04H194.4M46.2,550.32H49.3M191.3,550.32H194.4M46.2,554.59H49.3M191.3,554.59H194.4M46.2,558.86H49.3M191.3,558.86H194.4M46.2,563.13H49.3M191.3,563.13H194.4M46.2,567.4H49.3M191.3,567.4H194.4M46.2,571.68H49.3M191.3,571.68H194.4M46.2,575.95H49.3M191.3,575.95H194.4M46.2,580.22H49.3M191.3,580.22H194.4M46.2,584.49H49.3M191.3,584.49H194.4M46.2,588.76H49.3M191.3,588.76H194.4M46.2,593.04H49.3M191.3,593.04H194.4M46.2,597.31H49.3M191.3,597.31H194.4M46.2,601.58H49.3M191.3,601.58H194.4M37.5,606.2V608.4M49.05,606.2V608.4M60.6,606.2V608.4M72.15,606.2V608.4M83.7,606.2V608.4M95.25,606.2V608.4M106.8,606.2V608.4M118.35,606.2V608.4M129.9,606.2V608.4M141.45,606.2V608.4M153,606.2V608.4M164.55,606.2V608.4M176.1,606.2V608.4M194.4,427.5V607.1M194.4,606.3H446.5M194.8,606.3V608.5M205.24,606.3V608.5M215.68,606.3V608.5M226.12,606.3V608.5M236.56,606.3V608.5M247,606.3V608.5M257.44,606.3V608.5M267.88,606.3V608.5M278.32,606.3V608.5M288.76,606.3V608.5M299.2,606.3V608.5M309.64,606.3V608.5M320.08,606.3V608.5M330.52,606.3V608.5M340.96,606.3V608.5M351.4,606.3V608.5M361.84,606.3V608.5M372.28,606.3V608.5M382.72,606.3V608.5M393.16,606.3V608.5M403.6,606.3V608.5M414.04,606.3V608.5M424.48,606.3V608.5M434.92,606.3V608.5M445.36,606.3V608.5M179.9,608.6L184.7,603.75M192.4,608.6L197.2,604.2" stroke="#111" stroke-width="0.85" fill="none"/>
<text x="60.6" y="617.5" font-size="5.6" fill="#222" stroke="#222" stroke-width="0.1" text-anchor="middle">10</text>
<text x="83.7" y="617.5" font-size="5.6" fill="#222" stroke="#222" stroke-width="0.1" text-anchor="middle">30</text>
<text x="106.8" y="617.5" font-size="5.6" fill="#222" stroke="#222" stroke-width="0.1" text-anchor="middle">50</text>
<text x="129.9" y="617.5" font-size="5.6" fill="#222" stroke="#222" stroke-width="0.1" text-anchor="middle">70</text>
<text x="153" y="617.5" font-size="5.6" fill="#222" stroke="#222" stroke-width="0.1" text-anchor="middle">90</text>
<text x="176.1" y="617.5" font-size="5.6" fill="#222" stroke="#222" stroke-width="0.1" text-anchor="middle">110</text>
<text x="194.8" y="617.5" font-size="5.6" fill="#222" stroke="#222" stroke-width="0.1" text-anchor="middle">120</text>
<text x="205.24" y="617.5" font-size="5.6" fill="#222" stroke="#222" stroke-width="0.1" text-anchor="middle">150</text>
<text x="215.68" y="617.5" font-size="5.6" fill="#222" stroke="#222" stroke-width="0.1" text-anchor="middle">180</text>
<text x="226.12" y="617.5" font-size="5.6" fill="#222" stroke="#222" stroke-width="0.1" text-anchor="middle">210</text>
<text x="236.56" y="617.5" font-size="5.6" fill="#222" stroke="#222" stroke-width="0.1" text-anchor="middle">240</text>
<text x="247" y="617.5" font-size="5.6" fill="#222" stroke="#222" stroke-width="0.1" text-anchor="middle">270</text>
<text x="257.44" y="617.5" font-size="5.6" fill="#222" stroke="#222" stroke-width="0.1" text-anchor="middle">300</text>
<text x="267.88" y="617.5" font-size="5.6" fill="#222" stroke="#222" stroke-width="0.1" text-anchor="middle">330</text>
<text x="278.32" y="617.5" font-size="5.6" fill="#222" stroke="#222" stroke-width="0.1" text-anchor="middle">360</text>
<text x="288.76" y="617.5" font-size="5.6" fill="#222" stroke="#222" stroke-width="0.1" text-anchor="middle">390</text>
<text x="299.2" y="617.5" font-size="5.6" fill="#222" stroke="#222" stroke-width="0.1" text-anchor="middle">420</text>
<text x="309.64" y="617.5" font-size="5.6" fill="#222" stroke="#222" stroke-width="0.1" text-anchor="middle">450</text>
<text x="320.08" y="617.5" font-size="5.6" fill="#222" stroke="#222" stroke-width="0.1" text-anchor="middle">480</text>
<text x="330.52" y="617.5" font-size="5.6" fill="#222" stroke="#222" stroke-width="0.1" text-anchor="middle">510</text>
<text x="340.96" y="617.5" font-size="5.6" fill="#222" stroke="#222" stroke-width="0.1" text-anchor="middle">540</text>
<text x="351.4" y="617.5" font-size="5.6" fill="#222" stroke="#222" stroke-width="0.1" text-anchor="middle">570</text>
<text x="361.84" y="617.5" font-size="5.6" fill="#222" stroke="#222" stroke-width="0.1" text-anchor="middle">600</text>
<text x="372.28" y="617.5" font-size="5.6" fill="#222" stroke="#222" stroke-width="0.1" text-anchor="middle">630</text>
<text x="382.72" y="617.5" font-size="5.6" fill="#222" stroke="#222" stroke-width="0.1" text-anchor="middle">660</text>
<text x="393.16" y="617.5" font-size="5.6" fill="#222" stroke="#222" stroke-width="0.1" text-anchor="middle">690</text>
<text x="403.6" y="617.5" font-size="5.6" fill="#222" stroke="#222" stroke-width="0.1" text-anchor="middle">720</text>
<text x="414.04" y="617.5" font-size="5.6" fill="#222" stroke="#222" stroke-width="0.1" text-anchor="middle">750</text>
<text x="424.48" y="617.5" font-size="5.6" fill="#222" stroke="#222" stroke-width="0.1" text-anchor="middle">780</text>
<text x="434.92" y="617.5" font-size="5.6" fill="#222" stroke="#222" stroke-width="0.1" text-anchor="middle">810</text>
<text x="445.36" y="617.5" font-size="5.6" fill="#222" stroke="#222" stroke-width="0.1" text-anchor="middle">840</text>
<text x="88.9" y="627.4" font-size="7.4" fill="#111" stroke="#111" stroke-width="0.2" textLength="54.6" lengthAdjust="spacingAndGlyphs">Time (days post-CAR-T)</text>
<text x="294.5" y="627.4" font-size="7.4" fill="#111" stroke="#111" stroke-width="0.2" textLength="53.8" lengthAdjust="spacingAndGlyphs">Time (days post-CAR-T)</text>
<text x="17.3" y="634.6" font-size="5.1" fill="#222" stroke="#222" stroke-width="0.1">Number</text>
<text x="17.3" y="641.1" font-size="5.1" fill="#222" stroke="#222" stroke-width="0.1">at Risk</text>
<text x="49.1" y="640.4" font-size="5.1" fill="#222" stroke="#222" stroke-width="0.1" text-anchor="middle">41</text>
<text x="80.8" y="640.4" font-size="5.1" fill="#222" stroke="#222" stroke-width="0.1" text-anchor="middle">38</text>
<text x="153.5" y="640.4" font-size="5.1" fill="#222" stroke="#222" stroke-width="0.1" text-anchor="middle">36</text>
<text x="215.8" y="640.4" font-size="5.1" fill="#222" stroke="#222" stroke-width="0.1" text-anchor="middle">23</text>
<text x="248" y="640.4" font-size="5.1" fill="#222" stroke="#222" stroke-width="0.1" text-anchor="middle">20</text>
<text x="280.3" y="640.4" font-size="5.1" fill="#222" stroke="#222" stroke-width="0.1" text-anchor="middle">17</text>
<text x="312.6" y="640.4" font-size="5.1" fill="#222" stroke="#222" stroke-width="0.1" text-anchor="middle">16</text>
<text x="344.8" y="640.4" font-size="5.1" fill="#222" stroke="#222" stroke-width="0.1" text-anchor="middle">14</text>
<text x="373.9" y="640.4" font-size="5.1" fill="#222" stroke="#222" stroke-width="0.1" text-anchor="middle">7</text>
<text x="408.9" y="640.4" font-size="5.1" fill="#222" stroke="#222" stroke-width="0.1" text-anchor="middle">3</text>
<rect x="460.3" y="485.95" width="2.9" height="2.9" fill="#A7B77A"/>
<text x="466.4" y="489.2" font-size="5.1" fill="#222" stroke="#222" stroke-width="0.12">CR</text>
<rect x="460.3" y="494.75" width="2.9" height="2.9" fill="#EAB70C"/>
<text x="466.4" y="498" font-size="5.1" fill="#222" stroke="#222" stroke-width="0.12">PR</text>
<rect x="460.3" y="503.45" width="2.9" height="2.9" fill="#5FA8E0"/>
<text x="466.4" y="506.7" font-size="5.1" fill="#222" stroke="#222" stroke-width="0.12">SD</text>
<rect x="460.3" y="512.15" width="2.9" height="2.9" fill="#A1001A"/>
<text x="466.4" y="515.4" font-size="5.1" fill="#222" stroke="#222" stroke-width="0.12">PD</text>
<path d="M460.4,521.2L463,523.8M460.4,523.8L463,521.2" stroke="#000" stroke-width="0.85"/>
<text x="466.4" y="524.3" font-size="5.1" fill="#222" stroke="#222" stroke-width="0.12">Death</text>
<path d="M457.8,531.3L462.7,531.3" stroke="#222" stroke-width="0.75"/>
<path d="M464.5,531.3L462,530.05L462,532.55Z" fill="#000"/>
<text x="466.4" y="533.1" font-size="5.1" fill="#222" stroke="#222" stroke-width="0.12">Continued Response</text>
<circle cx="461.6" cy="540" r="1.0" fill="#7090C8"/>
<text x="466.4" y="541.8" font-size="5.1" fill="#222" stroke="#222" stroke-width="0.12">Plt Transfusion</text>
<path d="M460.4,549.95L462.8,549.95L461.6,547.75Z" fill="#9E0018" stroke="#5a0010" stroke-width="0.25"/>
<text x="466.4" y="550.7" font-size="5.1" fill="#222" stroke="#222" stroke-width="0.12">PRBC Transfusion</text>
<rect x="460.5" y="556.6" width="2.2" height="2.2" fill="#E58A12" stroke="#7a4200" stroke-width="0.4"/>
<text x="466.4" y="559.5" font-size="5.1" fill="#222" stroke="#222" stroke-width="0.12">Last G-CSF</text>
<rect x="0.55" y="0.55" width="518.9" height="647.9" fill="none" stroke="#000" stroke-width="1.1"/>
</svg></body></html>
